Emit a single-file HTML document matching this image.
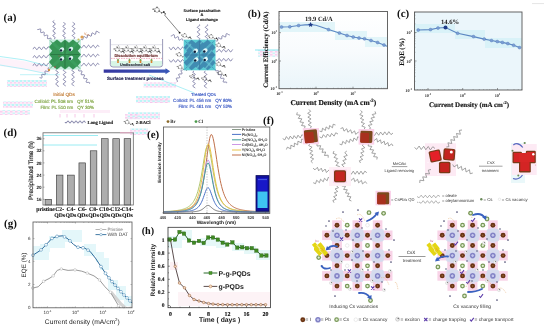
<!DOCTYPE html><html><head><meta charset="utf-8"><style>html,body{margin:0;padding:0;background:#fff;width:550px;height:330px;overflow:hidden}svg{display:block;will-change:transform;filter:blur(0.35px)}text{text-rendering:geometricPrecision}</style></head><body>
<svg width="550" height="330" viewBox="0 0 550 330">
<rect width="550" height="330" fill="#fff"/>
<defs><pattern id="nz" width="4" height="4" patternUnits="userSpaceOnUse"><rect width="4" height="4" fill="#fbe6f6"/><rect width="2" height="2" fill="#a8f0f4"/><rect x="2" y="2" width="2" height="1.5" fill="#f6c6ec"/><rect x="2.5" y="0" width="1.5" height="1.5" fill="#c6f4f8"/></pattern><pattern id="nz2" width="5" height="3" patternUnits="userSpaceOnUse"><rect width="5" height="3" fill="#fde9f7"/><rect width="2.5" height="1.5" fill="#f4c2ea"/><rect x="2.5" y="1.5" width="2.5" height="1.5" fill="#bff2f6"/></pattern></defs>
<rect x="7" y="80" width="40" height="7" fill="url(#nz)" opacity="0.75"/>
<rect x="3" y="101.5" width="30" height="6.5" fill="url(#nz)" opacity="0.75"/>
<rect x="143.6" y="82.3" width="32.4" height="5.4" fill="url(#nz)" opacity="0.75"/>
<rect x="136" y="96" width="34" height="7" fill="url(#nz)" opacity="0.75"/>
<rect x="128" y="112.3" width="32" height="7" fill="url(#nz)" opacity="0.75"/>
<rect x="130" y="128.5" width="18" height="6.5" fill="url(#nz)" opacity="0.75"/>
<rect x="0" y="110" width="30" height="5" fill="url(#nz2)" opacity="0.75"/>
<rect x="125" y="114" width="15" height="5" fill="url(#nz2)" opacity="0.75"/>
<rect x="258" y="50" width="20" height="7" fill="url(#nz2)" opacity="0.75"/>
<rect x="150" y="99" width="20" height="4" fill="url(#nz2)" opacity="0.75"/>
<path d="M0,58 Q24,60 50,67 L50,74 Q24,69 0,66Z" fill="#fbe3f3" opacity="0.45"/>
<path d="M0,56.5 Q24,58.5 48,66" fill="none" stroke="#8eeaf2" stroke-width="0.9" opacity="0.8"/>
<path d="M0,65 Q24,68.5 48,74" fill="none" stroke="#8eeaf2" stroke-width="0.9" opacity="0.7"/>
<path d="M20,74.7 L60,74.7" fill="none" stroke="#8eeaf2" stroke-width="0.8" opacity="0.7"/>
<path d="M149,75 L194.5,93" fill="none" stroke="#8eeaf2" stroke-width="0.9" opacity="0.8"/>
<path d="M255,50 L280,50" fill="none" stroke="#7ee6f0" stroke-width="1" opacity="0.9"/>
<line x1="43" y1="135.5" x2="98" y2="135.5" stroke="#8eeaf2" stroke-width="0.9"/>
<line x1="43" y1="145" x2="97" y2="145" stroke="#8eeaf2" stroke-width="0.9"/>
<line x1="60" y1="114" x2="60" y2="117.5" stroke="#f4b0dc" stroke-width="0.9" opacity="0.8"/>
<line x1="67" y1="114" x2="67" y2="117.5" stroke="#f4b0dc" stroke-width="0.9" opacity="0.8"/>
<line x1="75" y1="114" x2="75" y2="117.5" stroke="#f4b0dc" stroke-width="0.9" opacity="0.8"/>
<line x1="84" y1="114" x2="84" y2="117.5" stroke="#f4b0dc" stroke-width="0.9" opacity="0.8"/>
<line x1="94" y1="114" x2="94" y2="117.5" stroke="#f4b0dc" stroke-width="0.9" opacity="0.8"/>
<rect x="60" y="110" width="50" height="3" fill="#fdeef8"/>
<defs><linearGradient id="bg_b" x1="0" y1="0" x2="0" y2="1"><stop offset="0" stop-color="#ffffff"/><stop offset="0.5" stop-color="#f8fbfd"/><stop offset="1" stop-color="#eaf5fa"/></linearGradient></defs>
<rect x="279" y="11.5" width="108.5" height="77.2" fill="url(#bg_b)"/>
<rect x="279" y="22" width="56" height="10" fill="#e2f5f9"/>
<rect x="335" y="31" width="32" height="9" fill="#e2f5f9"/>
<rect x="365" y="37" width="22" height="10" fill="#e2f5f9"/>
<polyline points="281.5,27 289.8,26.8 298.6,25.5 305,24.9 310.6,24.6 316,25.3 322,27.2 328.5,29.6 339.4,33 347,35.5 353.2,37 359,38 364.5,38.8 371,40.5 377.6,42.5 384,45 387,46.2" fill="none" stroke="#5b86c2" stroke-width="1.1"/>
<circle cx="281.5" cy="27" r="1.5" fill="#7b9fd4" stroke="#5478b8" stroke-width="0.4"/>
<circle cx="289.8" cy="26.8" r="1.5" fill="#7b9fd4" stroke="#5478b8" stroke-width="0.4"/>
<circle cx="298.6" cy="25.5" r="1.5" fill="#7b9fd4" stroke="#5478b8" stroke-width="0.4"/>
<path d="M310.6,22.0 L311.40000000000003,23.8 L313.20000000000005,24.0 L311.8,25.3 L312.20000000000005,27.1 L310.6,26.1 L309.0,27.1 L309.40000000000003,25.3 L308.0,24.0 L309.8,23.8Z" fill="#1f3c88"/>
<circle cx="328.5" cy="29.6" r="1.5" fill="#7b9fd4" stroke="#5478b8" stroke-width="0.4"/>
<circle cx="339.4" cy="33" r="1.5" fill="#7b9fd4" stroke="#5478b8" stroke-width="0.4"/>
<circle cx="347" cy="35.5" r="1.5" fill="#7b9fd4" stroke="#5478b8" stroke-width="0.4"/>
<circle cx="353.2" cy="37" r="1.5" fill="#7b9fd4" stroke="#5478b8" stroke-width="0.4"/>
<circle cx="359" cy="38" r="1.5" fill="#7b9fd4" stroke="#5478b8" stroke-width="0.4"/>
<circle cx="364.5" cy="38.8" r="1.5" fill="#7b9fd4" stroke="#5478b8" stroke-width="0.4"/>
<circle cx="371" cy="40.5" r="1.5" fill="#7b9fd4" stroke="#5478b8" stroke-width="0.4"/>
<circle cx="377.6" cy="42.5" r="1.5" fill="#7b9fd4" stroke="#5478b8" stroke-width="0.4"/>
<circle cx="384" cy="45" r="1.5" fill="#7b9fd4" stroke="#5478b8" stroke-width="0.4"/>
<rect x="279" y="11.5" width="108.5" height="77.2" fill="none" stroke="#555" stroke-width="0.9"/>
<line x1="279" y1="32.7" x2="281" y2="32.7" stroke="#555" stroke-width="0.6"/>
<line x1="279" y1="61" x2="281" y2="61" stroke="#555" stroke-width="0.6"/>
<line x1="316" y1="88.7" x2="316" y2="86.7" stroke="#555" stroke-width="0.6"/>
<line x1="353" y1="88.7" x2="353" y2="86.7" stroke="#555" stroke-width="0.6"/>
<line x1="290.5" y1="88.7" x2="290.5" y2="87.7" stroke="#666" stroke-width="0.4"/>
<line x1="297.0" y1="88.7" x2="297.0" y2="87.7" stroke="#666" stroke-width="0.4"/>
<line x1="301.5" y1="88.7" x2="301.5" y2="87.7" stroke="#666" stroke-width="0.4"/>
<line x1="305.1" y1="88.7" x2="305.1" y2="87.7" stroke="#666" stroke-width="0.4"/>
<line x1="308.0" y1="88.7" x2="308.0" y2="87.7" stroke="#666" stroke-width="0.4"/>
<line x1="310.4" y1="88.7" x2="310.4" y2="87.7" stroke="#666" stroke-width="0.4"/>
<line x1="312.6" y1="88.7" x2="312.6" y2="87.7" stroke="#666" stroke-width="0.4"/>
<line x1="314.4" y1="88.7" x2="314.4" y2="87.7" stroke="#666" stroke-width="0.4"/>
<line x1="327.0" y1="88.7" x2="327.0" y2="87.7" stroke="#666" stroke-width="0.4"/>
<line x1="333.5" y1="88.7" x2="333.5" y2="87.7" stroke="#666" stroke-width="0.4"/>
<line x1="338.0" y1="88.7" x2="338.0" y2="87.7" stroke="#666" stroke-width="0.4"/>
<line x1="341.6" y1="88.7" x2="341.6" y2="87.7" stroke="#666" stroke-width="0.4"/>
<line x1="344.5" y1="88.7" x2="344.5" y2="87.7" stroke="#666" stroke-width="0.4"/>
<line x1="346.9" y1="88.7" x2="346.9" y2="87.7" stroke="#666" stroke-width="0.4"/>
<line x1="349.1" y1="88.7" x2="349.1" y2="87.7" stroke="#666" stroke-width="0.4"/>
<line x1="350.9" y1="88.7" x2="350.9" y2="87.7" stroke="#666" stroke-width="0.4"/>
<line x1="364.0" y1="88.7" x2="364.0" y2="87.7" stroke="#666" stroke-width="0.4"/>
<line x1="370.5" y1="88.7" x2="370.5" y2="87.7" stroke="#666" stroke-width="0.4"/>
<line x1="375.0" y1="88.7" x2="375.0" y2="87.7" stroke="#666" stroke-width="0.4"/>
<line x1="378.6" y1="88.7" x2="378.6" y2="87.7" stroke="#666" stroke-width="0.4"/>
<line x1="381.5" y1="88.7" x2="381.5" y2="87.7" stroke="#666" stroke-width="0.4"/>
<line x1="383.9" y1="88.7" x2="383.9" y2="87.7" stroke="#666" stroke-width="0.4"/>
<line x1="386.1" y1="88.7" x2="386.1" y2="87.7" stroke="#666" stroke-width="0.4"/>
<line x1="279" y1="80.3" x2="280" y2="80.3" stroke="#666" stroke-width="0.4"/>
<line x1="279" y1="75.3" x2="280" y2="75.3" stroke="#666" stroke-width="0.4"/>
<line x1="279" y1="71.8" x2="280" y2="71.8" stroke="#666" stroke-width="0.4"/>
<line x1="279" y1="69.1" x2="280" y2="69.1" stroke="#666" stroke-width="0.4"/>
<line x1="279" y1="66.9" x2="280" y2="66.9" stroke="#666" stroke-width="0.4"/>
<line x1="279" y1="65.0" x2="280" y2="65.0" stroke="#666" stroke-width="0.4"/>
<line x1="279" y1="63.4" x2="280" y2="63.4" stroke="#666" stroke-width="0.4"/>
<line x1="279" y1="62.0" x2="280" y2="62.0" stroke="#666" stroke-width="0.4"/>
<line x1="279" y1="52.6" x2="280" y2="52.6" stroke="#666" stroke-width="0.4"/>
<line x1="279" y1="47.6" x2="280" y2="47.6" stroke="#666" stroke-width="0.4"/>
<line x1="279" y1="44.1" x2="280" y2="44.1" stroke="#666" stroke-width="0.4"/>
<line x1="279" y1="41.4" x2="280" y2="41.4" stroke="#666" stroke-width="0.4"/>
<line x1="279" y1="39.2" x2="280" y2="39.2" stroke="#666" stroke-width="0.4"/>
<line x1="279" y1="37.3" x2="280" y2="37.3" stroke="#666" stroke-width="0.4"/>
<line x1="279" y1="35.7" x2="280" y2="35.7" stroke="#666" stroke-width="0.4"/>
<line x1="279" y1="34.3" x2="280" y2="34.3" stroke="#666" stroke-width="0.4"/>
<line x1="279" y1="24.3" x2="280" y2="24.3" stroke="#666" stroke-width="0.4"/>
<line x1="279" y1="19.3" x2="280" y2="19.3" stroke="#666" stroke-width="0.4"/>
<line x1="279" y1="15.8" x2="280" y2="15.8" stroke="#666" stroke-width="0.4"/>
<line x1="279" y1="13.1" x2="280" y2="13.1" stroke="#666" stroke-width="0.4"/>
<text x="277" y="34" font-size="4.2" font-family="Liberation Serif" font-weight="bold" fill="#333" text-anchor="end" >10<tspan font-size="3" dy="-2">1</tspan></text>
<text x="277" y="62.5" font-size="4.2" font-family="Liberation Serif" font-weight="bold" fill="#333" text-anchor="end" >10<tspan font-size="3" dy="-2">0</tspan></text>
<text x="277" y="90" font-size="4.2" font-family="Liberation Serif" font-weight="bold" fill="#333" text-anchor="end" >10<tspan font-size="3" dy="-2">-1</tspan></text>
<text x="279.5" y="95" font-size="4.2" font-family="Liberation Serif" font-weight="bold" fill="#333" text-anchor="middle" >10<tspan font-size="3" dy="-2">-1</tspan></text>
<text x="316" y="95" font-size="4.2" font-family="Liberation Serif" font-weight="bold" fill="#333" text-anchor="middle" >10<tspan font-size="3" dy="-2">0</tspan></text>
<text x="353" y="95" font-size="4.2" font-family="Liberation Serif" font-weight="bold" fill="#333" text-anchor="middle" >10<tspan font-size="3" dy="-2">1</tspan></text>
<text x="333.3" y="105" font-size="7.5" font-family="Liberation Serif" font-weight="bold" fill="#111" text-anchor="middle" stroke="#111" stroke-width="0.15">Current Density (mA cm<tspan font-size="4.8" dy="-2.8">-2</tspan><tspan dy="2.8">)</tspan></text>
<text x="0" y="0" font-size="6.8" font-family="Liberation Serif" font-weight="bold" fill="#111" text-anchor="middle" transform="translate(267.5,49.6) rotate(-90)" stroke="#111" stroke-width="0.12">Current Efficiency (Cd/A)</text>
<text x="318.8" y="21" font-size="6.5" font-family="Liberation Serif" font-weight="bold" fill="#222" text-anchor="middle" >19.9 Cd/A</text>
<text x="247.8" y="16.5" font-size="10.5" font-family="Liberation Serif" font-weight="bold" fill="#111" text-anchor="start" >(b)</text>
<rect x="414.5" y="12" width="107.5" height="78" fill="#ebf6fb"/>
<rect x="415" y="24" width="40" height="9" fill="#d9f2f8"/>
<rect x="455" y="30" width="30" height="9" fill="#d9f2f8"/>
<rect x="485" y="38" width="37" height="10" fill="#d9f2f8"/>
<polyline points="418.2,30 430.5,29.6 438,28 445.5,27.5 457.6,33.2 473.5,36.6 484.2,39.1 491.5,40.5 497.3,41.6 502.4,42.4 507.8,43.6 513.6,45.2 519.5,47.6" fill="none" stroke="#5b86c2" stroke-width="1.1"/>
<circle cx="418.2" cy="30" r="1.5" fill="#7b9fd4" stroke="#5478b8" stroke-width="0.4"/>
<circle cx="430.5" cy="29.6" r="1.5" fill="#7b9fd4" stroke="#5478b8" stroke-width="0.4"/>
<circle cx="438" cy="28" r="1.5" fill="#7b9fd4" stroke="#5478b8" stroke-width="0.4"/>
<circle cx="445.5" cy="27.5" r="2" fill="#1f3c88"/>
<circle cx="457.6" cy="33.2" r="1.5" fill="#7b9fd4" stroke="#5478b8" stroke-width="0.4"/>
<circle cx="473.5" cy="36.6" r="1.5" fill="#7b9fd4" stroke="#5478b8" stroke-width="0.4"/>
<circle cx="484.2" cy="39.1" r="1.5" fill="#7b9fd4" stroke="#5478b8" stroke-width="0.4"/>
<circle cx="491.5" cy="40.5" r="1.5" fill="#7b9fd4" stroke="#5478b8" stroke-width="0.4"/>
<circle cx="497.3" cy="41.6" r="1.5" fill="#7b9fd4" stroke="#5478b8" stroke-width="0.4"/>
<circle cx="502.4" cy="42.4" r="1.5" fill="#7b9fd4" stroke="#5478b8" stroke-width="0.4"/>
<circle cx="507.8" cy="43.6" r="1.5" fill="#7b9fd4" stroke="#5478b8" stroke-width="0.4"/>
<circle cx="513.6" cy="45.2" r="1.5" fill="#7b9fd4" stroke="#5478b8" stroke-width="0.4"/>
<circle cx="519.5" cy="47.6" r="1.5" fill="#7b9fd4" stroke="#5478b8" stroke-width="0.4"/>
<rect x="414.5" y="12" width="107.5" height="78" fill="none" stroke="#555" stroke-width="0.9"/>
<line x1="414.5" y1="32.5" x2="416.5" y2="32.5" stroke="#555" stroke-width="0.6"/>
<line x1="414.5" y1="61" x2="416.5" y2="61" stroke="#555" stroke-width="0.6"/>
<line x1="428" y1="90" x2="428" y2="88" stroke="#555" stroke-width="0.6"/>
<line x1="462.7" y1="90" x2="462.7" y2="88" stroke="#555" stroke-width="0.6"/>
<line x1="497.5" y1="90" x2="497.5" y2="88" stroke="#555" stroke-width="0.6"/>
<line x1="417.6" y1="90" x2="417.6" y2="89" stroke="#666" stroke-width="0.4"/>
<line x1="420.3" y1="90" x2="420.3" y2="89" stroke="#666" stroke-width="0.4"/>
<line x1="422.6" y1="90" x2="422.6" y2="89" stroke="#666" stroke-width="0.4"/>
<line x1="424.6" y1="90" x2="424.6" y2="89" stroke="#666" stroke-width="0.4"/>
<line x1="426.4" y1="90" x2="426.4" y2="89" stroke="#666" stroke-width="0.4"/>
<line x1="438.4" y1="90" x2="438.4" y2="89" stroke="#666" stroke-width="0.4"/>
<line x1="444.6" y1="90" x2="444.6" y2="89" stroke="#666" stroke-width="0.4"/>
<line x1="448.9" y1="90" x2="448.9" y2="89" stroke="#666" stroke-width="0.4"/>
<line x1="452.3" y1="90" x2="452.3" y2="89" stroke="#666" stroke-width="0.4"/>
<line x1="455.0" y1="90" x2="455.0" y2="89" stroke="#666" stroke-width="0.4"/>
<line x1="457.3" y1="90" x2="457.3" y2="89" stroke="#666" stroke-width="0.4"/>
<line x1="459.3" y1="90" x2="459.3" y2="89" stroke="#666" stroke-width="0.4"/>
<line x1="461.1" y1="90" x2="461.1" y2="89" stroke="#666" stroke-width="0.4"/>
<line x1="473.1" y1="90" x2="473.1" y2="89" stroke="#666" stroke-width="0.4"/>
<line x1="479.3" y1="90" x2="479.3" y2="89" stroke="#666" stroke-width="0.4"/>
<line x1="483.6" y1="90" x2="483.6" y2="89" stroke="#666" stroke-width="0.4"/>
<line x1="487.0" y1="90" x2="487.0" y2="89" stroke="#666" stroke-width="0.4"/>
<line x1="489.7" y1="90" x2="489.7" y2="89" stroke="#666" stroke-width="0.4"/>
<line x1="492.0" y1="90" x2="492.0" y2="89" stroke="#666" stroke-width="0.4"/>
<line x1="494.0" y1="90" x2="494.0" y2="89" stroke="#666" stroke-width="0.4"/>
<line x1="495.8" y1="90" x2="495.8" y2="89" stroke="#666" stroke-width="0.4"/>
<line x1="507.8" y1="90" x2="507.8" y2="89" stroke="#666" stroke-width="0.4"/>
<line x1="514.0" y1="90" x2="514.0" y2="89" stroke="#666" stroke-width="0.4"/>
<line x1="518.3" y1="90" x2="518.3" y2="89" stroke="#666" stroke-width="0.4"/>
<line x1="521.7" y1="90" x2="521.7" y2="89" stroke="#666" stroke-width="0.4"/>
<line x1="414.5" y1="81.3" x2="415.5" y2="81.3" stroke="#666" stroke-width="0.4"/>
<line x1="414.5" y1="76.3" x2="415.5" y2="76.3" stroke="#666" stroke-width="0.4"/>
<line x1="414.5" y1="72.7" x2="415.5" y2="72.7" stroke="#666" stroke-width="0.4"/>
<line x1="414.5" y1="69.9" x2="415.5" y2="69.9" stroke="#666" stroke-width="0.4"/>
<line x1="414.5" y1="67.6" x2="415.5" y2="67.6" stroke="#666" stroke-width="0.4"/>
<line x1="414.5" y1="65.7" x2="415.5" y2="65.7" stroke="#666" stroke-width="0.4"/>
<line x1="414.5" y1="64.0" x2="415.5" y2="64.0" stroke="#666" stroke-width="0.4"/>
<line x1="414.5" y1="62.5" x2="415.5" y2="62.5" stroke="#666" stroke-width="0.4"/>
<line x1="414.5" y1="52.3" x2="415.5" y2="52.3" stroke="#666" stroke-width="0.4"/>
<line x1="414.5" y1="47.3" x2="415.5" y2="47.3" stroke="#666" stroke-width="0.4"/>
<line x1="414.5" y1="43.7" x2="415.5" y2="43.7" stroke="#666" stroke-width="0.4"/>
<line x1="414.5" y1="40.9" x2="415.5" y2="40.9" stroke="#666" stroke-width="0.4"/>
<line x1="414.5" y1="38.6" x2="415.5" y2="38.6" stroke="#666" stroke-width="0.4"/>
<line x1="414.5" y1="36.7" x2="415.5" y2="36.7" stroke="#666" stroke-width="0.4"/>
<line x1="414.5" y1="35.0" x2="415.5" y2="35.0" stroke="#666" stroke-width="0.4"/>
<line x1="414.5" y1="33.5" x2="415.5" y2="33.5" stroke="#666" stroke-width="0.4"/>
<line x1="414.5" y1="23.8" x2="415.5" y2="23.8" stroke="#666" stroke-width="0.4"/>
<line x1="414.5" y1="18.8" x2="415.5" y2="18.8" stroke="#666" stroke-width="0.4"/>
<line x1="414.5" y1="15.2" x2="415.5" y2="15.2" stroke="#666" stroke-width="0.4"/>
<line x1="414.5" y1="12.4" x2="415.5" y2="12.4" stroke="#666" stroke-width="0.4"/>
<text x="412" y="34" font-size="4.2" font-family="Liberation Serif" font-weight="bold" fill="#333" text-anchor="end" >10<tspan font-size="3" dy="-2">1</tspan></text>
<text x="412" y="62.5" font-size="4.2" font-family="Liberation Serif" font-weight="bold" fill="#333" text-anchor="end" >10<tspan font-size="3" dy="-2">0</tspan></text>
<text x="412" y="91.5" font-size="4.2" font-family="Liberation Serif" font-weight="bold" fill="#333" text-anchor="end" >10<tspan font-size="3" dy="-2">-1</tspan></text>
<text x="428" y="96.5" font-size="4.2" font-family="Liberation Serif" font-weight="bold" fill="#333" text-anchor="middle" >10<tspan font-size="3" dy="-2">-1</tspan></text>
<text x="462.7" y="96.5" font-size="4.2" font-family="Liberation Serif" font-weight="bold" fill="#333" text-anchor="middle" >10<tspan font-size="3" dy="-2">0</tspan></text>
<text x="497.5" y="96.5" font-size="4.2" font-family="Liberation Serif" font-weight="bold" fill="#333" text-anchor="middle" >10<tspan font-size="3" dy="-2">1</tspan></text>
<text x="469" y="106.7" font-size="7.0" font-family="Liberation Serif" font-weight="bold" fill="#111" text-anchor="middle" stroke="#111" stroke-width="0.15">Current Density (mA cm<tspan font-size="4.5" dy="-2.6">-2</tspan><tspan dy="2.6">)</tspan></text>
<text x="0" y="0" font-size="6.8" font-family="Liberation Serif" font-weight="bold" fill="#111" text-anchor="middle" transform="translate(403.5,52) rotate(-90)" stroke="#111" stroke-width="0.12">EQE (%)</text>
<text x="450" y="23.5" font-size="6.6" font-family="Liberation Serif" font-weight="bold" fill="#222" text-anchor="middle" >14.6%</text>
<text x="397" y="16.5" font-size="11" font-family="Liberation Serif" font-weight="bold" fill="#111" text-anchor="start" >(c)</text>
<line x1="532" y1="3.6" x2="544" y2="3.6" stroke="#ddd" stroke-width="0.8"/>
<rect x="45.05" y="199.3" width="6.6" height="5.7" fill="#adadad" stroke="#333" stroke-width="0.6"/>
<rect x="56.35" y="175.1" width="6.6" height="29.9" fill="#adadad" stroke="#333" stroke-width="0.6"/>
<rect x="67.65" y="175.1" width="6.6" height="29.9" fill="#adadad" stroke="#333" stroke-width="0.6"/>
<rect x="78.95" y="162.9" width="6.6" height="42.1" fill="#adadad" stroke="#333" stroke-width="0.6"/>
<rect x="90.25" y="150.8" width="6.6" height="54.2" fill="#adadad" stroke="#333" stroke-width="0.6"/>
<rect x="101.55" y="138.7" width="6.6" height="66.3" fill="#adadad" stroke="#333" stroke-width="0.6"/>
<rect x="112.85" y="138.7" width="6.6" height="66.3" fill="#adadad" stroke="#333" stroke-width="0.6"/>
<rect x="124.15" y="138.7" width="6.6" height="66.3" fill="#adadad" stroke="#333" stroke-width="0.6"/>
<rect x="43" y="132.8" width="90.30000000000001" height="72.19999999999999" fill="none" stroke="#666" stroke-width="0.8"/>
<line x1="43" y1="199.3" x2="44.5" y2="199.3" stroke="#666" stroke-width="0.5"/>
<text x="41.5" y="200.9" font-size="4.6" font-family="Liberation Sans" font-weight="bold" fill="#222" text-anchor="end" >16</text>
<line x1="43" y1="187.2" x2="44.5" y2="187.2" stroke="#666" stroke-width="0.5"/>
<text x="41.5" y="188.78" font-size="4.6" font-family="Liberation Sans" font-weight="bold" fill="#222" text-anchor="end" >20</text>
<line x1="43" y1="175.1" x2="44.5" y2="175.1" stroke="#666" stroke-width="0.5"/>
<text x="41.5" y="176.66" font-size="4.6" font-family="Liberation Sans" font-weight="bold" fill="#222" text-anchor="end" >24</text>
<line x1="43" y1="162.9" x2="44.5" y2="162.9" stroke="#666" stroke-width="0.5"/>
<text x="41.5" y="164.54" font-size="4.6" font-family="Liberation Sans" font-weight="bold" fill="#222" text-anchor="end" >28</text>
<line x1="43" y1="150.8" x2="44.5" y2="150.8" stroke="#666" stroke-width="0.5"/>
<text x="41.5" y="152.42000000000002" font-size="4.6" font-family="Liberation Sans" font-weight="bold" fill="#222" text-anchor="end" >32</text>
<line x1="43" y1="138.7" x2="44.5" y2="138.7" stroke="#666" stroke-width="0.5"/>
<text x="41.5" y="140.3" font-size="4.6" font-family="Liberation Sans" font-weight="bold" fill="#222" text-anchor="end" >36</text>
<text x="0" y="0" font-size="6.4" font-family="Liberation Sans" fill="#111" text-anchor="middle" transform="translate(33.2,170.5) rotate(-90)" stroke="#111" stroke-width="0.15">Precipitated Time (h)</text>
<text x="45.550000000000004" y="211.3" font-size="5.7" font-family="Liberation Serif" font-weight="bold" fill="#111" text-anchor="middle" stroke="#111" stroke-width="0.12">pristine</text>
<text x="59.650000000000006" y="211.3" font-size="5.7" font-family="Liberation Serif" font-weight="bold" fill="#111" text-anchor="middle" stroke="#111" stroke-width="0.12">C2-</text>
<text x="59.650000000000006" y="216.5" font-size="5.7" font-family="Liberation Serif" font-weight="bold" fill="#111" text-anchor="middle" stroke="#111" stroke-width="0.12">QDs</text>
<text x="70.95" y="211.3" font-size="5.7" font-family="Liberation Serif" font-weight="bold" fill="#111" text-anchor="middle" stroke="#111" stroke-width="0.12">C4-</text>
<text x="70.95" y="216.5" font-size="5.7" font-family="Liberation Serif" font-weight="bold" fill="#111" text-anchor="middle" stroke="#111" stroke-width="0.12">QDs</text>
<text x="82.25" y="211.3" font-size="5.7" font-family="Liberation Serif" font-weight="bold" fill="#111" text-anchor="middle" stroke="#111" stroke-width="0.12">C6-</text>
<text x="82.25" y="216.5" font-size="5.7" font-family="Liberation Serif" font-weight="bold" fill="#111" text-anchor="middle" stroke="#111" stroke-width="0.12">QDs</text>
<text x="93.55000000000001" y="211.3" font-size="5.7" font-family="Liberation Serif" font-weight="bold" fill="#111" text-anchor="middle" stroke="#111" stroke-width="0.12">C8-</text>
<text x="93.55000000000001" y="216.5" font-size="5.7" font-family="Liberation Serif" font-weight="bold" fill="#111" text-anchor="middle" stroke="#111" stroke-width="0.12">QDs</text>
<text x="104.85" y="211.3" font-size="5.7" font-family="Liberation Serif" font-weight="bold" fill="#111" text-anchor="middle" stroke="#111" stroke-width="0.12">C10-</text>
<text x="104.85" y="216.5" font-size="5.7" font-family="Liberation Serif" font-weight="bold" fill="#111" text-anchor="middle" stroke="#111" stroke-width="0.12">QDs</text>
<text x="116.15" y="211.3" font-size="5.7" font-family="Liberation Serif" font-weight="bold" fill="#111" text-anchor="middle" stroke="#111" stroke-width="0.12">C12-</text>
<text x="116.15" y="216.5" font-size="5.7" font-family="Liberation Serif" font-weight="bold" fill="#111" text-anchor="middle" stroke="#111" stroke-width="0.12">QDs</text>
<text x="127.45000000000002" y="211.3" font-size="5.7" font-family="Liberation Serif" font-weight="bold" fill="#111" text-anchor="middle" stroke="#111" stroke-width="0.12">C14-</text>
<text x="127.45000000000002" y="216.5" font-size="5.7" font-family="Liberation Serif" font-weight="bold" fill="#111" text-anchor="middle" stroke="#111" stroke-width="0.12">QDs</text>
<text x="3.5" y="136.3" font-size="11" font-family="Liberation Serif" font-weight="bold" fill="#111" text-anchor="start" >(d)</text>
<line x1="120" y1="132.8" x2="133.3" y2="132.8" stroke="#f0a8c8" stroke-width="0.9"/>
<polyline points="163.5,211.55 164.2,211.53 164.9,211.50 165.6,211.46 166.3,211.43 167.0,211.39 167.7,211.35 168.4,211.31 169.1,211.27 169.8,211.22 170.5,211.17 171.2,211.12 171.9,211.06 172.6,211.00 173.3,210.94 174.0,210.87 174.7,210.79 175.4,210.71 176.1,210.62 176.8,210.53 177.5,210.42 178.2,210.31 178.9,210.19 179.6,210.06 180.3,209.92 181.0,209.76 181.7,209.59 182.4,209.40 183.1,209.20 183.8,208.98 184.5,208.73 185.2,208.46 185.9,208.16 186.6,207.83 187.3,207.46 188.0,207.05 188.7,206.59 189.4,206.08 190.1,205.51 190.8,204.87 191.5,204.15 192.2,203.34 192.9,202.43 193.6,201.39 194.3,200.23 195.0,198.90 195.7,197.39 196.4,195.69 197.1,193.75 197.8,191.55 198.5,189.07 199.2,186.28 199.9,183.17 200.6,179.71 201.3,175.92 202.0,171.84 202.7,167.54 203.4,163.13 204.1,158.78 204.8,154.71 205.5,151.16 206.2,148.38 206.9,146.61 207.6,146.00 208.3,146.61 209.0,148.38 209.7,151.16 210.4,154.71 211.1,158.78 211.8,163.13 212.5,167.54 213.2,171.84 213.9,175.92 214.6,179.71 215.3,183.17 216.0,186.28 216.7,189.07 217.4,191.55 218.1,193.75 218.8,195.69 219.5,197.39 220.2,198.90 220.9,200.23 221.6,201.39 222.3,202.43 223.0,203.34 223.7,204.15 224.4,204.87 225.1,205.51 225.8,206.08 226.5,206.59 227.2,207.05 227.9,207.46 228.6,207.83 229.3,208.16 230.0,208.46 230.7,208.73 231.4,208.98 232.1,209.20 232.8,209.40 233.5,209.59 234.2,209.76 234.9,209.92 235.6,210.06 236.3,210.19 237.0,210.31 237.7,210.42 238.4,210.53 239.1,210.62 239.8,210.71 240.5,210.79 241.2,210.87 241.9,210.94 242.6,211.00 243.3,211.06 244.0,211.12 244.7,211.17 245.4,211.22 246.1,211.27 246.8,211.31 247.5,211.35 248.2,211.39 248.9,211.43 249.6,211.46 250.3,211.50 251.0,211.53 251.7,211.55 252.4,211.58 253.1,211.61 253.8,211.63 254.5,211.65 255.2,211.67 255.9,211.69 256.6,211.71 257.3,211.73 258.0,211.75 258.7,211.77 259.4,211.78 260.1,211.80 260.8,211.81 261.5,211.83 262.2,211.84 262.9,211.85 263.6,211.86 264.3,211.87 265.0,211.88 265.7,211.89 266.4,211.90 267.1,211.91 267.8,211.92 268.5,211.93 269.2,211.94" fill="none" stroke="#a8c060" stroke-width="0.9"/>
<polyline points="163.5,211.77 164.2,211.75 164.9,211.73 165.6,211.71 166.3,211.69 167.0,211.66 167.7,211.64 168.4,211.61 169.1,211.58 169.8,211.55 170.5,211.52 171.2,211.48 171.9,211.45 172.6,211.41 173.3,211.36 174.0,211.32 174.7,211.27 175.4,211.22 176.1,211.16 176.8,211.10 177.5,211.04 178.2,210.96 178.9,210.89 179.6,210.81 180.3,210.72 181.0,210.62 181.7,210.51 182.4,210.40 183.1,210.27 183.8,210.13 184.5,209.98 185.2,209.82 185.9,209.64 186.6,209.44 187.3,209.22 188.0,208.97 188.7,208.70 189.4,208.41 190.1,208.07 190.8,207.70 191.5,207.29 192.2,206.82 192.9,206.30 193.6,205.71 194.3,205.05 195.0,204.30 195.7,203.46 196.4,202.49 197.1,201.40 197.8,200.15 198.5,198.72 199.2,197.09 199.9,195.23 200.6,193.10 201.3,190.66 202.0,187.88 202.7,184.73 203.4,181.17 204.1,177.17 204.8,172.75 205.5,167.92 206.2,162.76 206.9,157.38 207.6,151.97 208.3,146.79 209.0,142.15 209.7,138.37 210.4,135.76 211.1,134.56 211.8,134.80 212.5,136.18 213.2,138.61 213.9,141.91 214.6,145.88 215.3,150.29 216.0,154.95 216.7,159.67 217.4,164.29 218.1,168.73 218.8,172.89 219.5,176.75 220.2,180.29 220.9,183.49 221.6,186.38 222.3,188.98 223.0,191.30 223.7,193.36 224.4,195.20 225.1,196.84 225.8,198.30 226.5,199.60 227.2,200.75 227.9,201.78 228.6,202.70 229.3,203.52 230.0,204.26 230.7,204.92 231.4,205.51 232.1,206.05 232.8,206.53 233.5,206.96 234.2,207.36 234.9,207.71 235.6,208.04 236.3,208.33 237.0,208.60 237.7,208.85 238.4,209.07 239.1,209.27 239.8,209.46 240.5,209.63 241.2,209.79 241.9,209.94 242.6,210.07 243.3,210.20 244.0,210.31 244.7,210.42 245.4,210.52 246.1,210.61 246.8,210.70 247.5,210.78 248.2,210.85 248.9,210.92 249.6,210.99 250.3,211.05 251.0,211.10 251.7,211.16 252.4,211.21 253.1,211.25 253.8,211.30 254.5,211.34 255.2,211.38 255.9,211.41 256.6,211.45 257.3,211.48 258.0,211.51 258.7,211.54 259.4,211.57 260.1,211.59 260.8,211.62 261.5,211.64 262.2,211.66 262.9,211.68 263.6,211.70 264.3,211.72 265.0,211.74 265.7,211.76 266.4,211.77 267.1,211.79 267.8,211.80 268.5,211.82 269.2,211.83" fill="none" stroke="#c0704a" stroke-width="1.0"/>
<polyline points="163.5,211.83 164.2,211.81 164.9,211.79 165.6,211.77 166.3,211.75 167.0,211.73 167.7,211.70 168.4,211.68 169.1,211.65 169.8,211.62 170.5,211.59 171.2,211.56 171.9,211.52 172.6,211.48 173.3,211.44 174.0,211.39 174.7,211.35 175.4,211.29 176.1,211.24 176.8,211.17 177.5,211.11 178.2,211.03 178.9,210.95 179.6,210.87 180.3,210.77 181.0,210.67 181.7,210.55 182.4,210.43 183.1,210.29 183.8,210.14 184.5,209.97 185.2,209.78 185.9,209.57 186.6,209.34 187.3,209.08 188.0,208.80 188.7,208.47 189.4,208.11 190.1,207.69 190.8,207.23 191.5,206.70 192.2,206.10 192.9,205.42 193.6,204.63 194.3,203.74 195.0,202.70 195.7,201.52 196.4,200.15 197.1,198.57 197.8,196.74 198.5,194.63 199.2,192.20 199.9,189.41 200.6,186.21 201.3,182.59 202.0,178.52 202.7,174.04 203.4,169.20 204.1,164.13 204.8,159.04 205.5,154.19 206.2,149.93 206.9,146.61 207.6,144.57 208.3,144.01 209.0,144.84 209.7,146.87 210.4,149.93 211.1,153.77 211.8,158.13 212.5,162.73 213.2,167.37 213.9,171.88 214.6,176.13 215.3,180.05 216.0,183.62 216.7,186.82 217.4,189.68 218.1,192.20 218.8,194.43 219.5,196.38 220.2,198.10 220.9,199.60 221.6,200.92 222.3,202.08 223.0,203.10 223.7,203.99 224.4,204.78 225.1,205.48 225.8,206.10 226.5,206.65 227.2,207.14 227.9,207.57 228.6,207.96 229.3,208.31 230.0,208.62 230.7,208.90 231.4,209.16 232.1,209.39 232.8,209.59 233.5,209.78 234.2,209.95 234.9,210.11 235.6,210.25 236.3,210.38 237.0,210.50 237.7,210.61 238.4,210.71 239.1,210.80 239.8,210.88 240.5,210.96 241.2,211.03 241.9,211.10 242.6,211.16 243.3,211.22 244.0,211.27 244.7,211.32 245.4,211.37 246.1,211.41 246.8,211.45 247.5,211.49 248.2,211.52 248.9,211.56 249.6,211.59 250.3,211.62 251.0,211.64 251.7,211.67 252.4,211.69 253.1,211.71 253.8,211.74 254.5,211.76 255.2,211.77 255.9,211.79 256.6,211.81 257.3,211.83 258.0,211.84 258.7,211.85 259.4,211.87 260.1,211.88 260.8,211.89 261.5,211.91 262.2,211.92 262.9,211.93 263.6,211.94 264.3,211.95 265.0,211.96 265.7,211.96 266.4,211.97 267.1,211.98 267.8,211.99 268.5,211.99 269.2,212.00" fill="none" stroke="#e8c34a" stroke-width="1.0"/>
<polyline points="163.5,211.95 164.2,211.94 164.9,211.93 165.6,211.91 166.3,211.90 167.0,211.88 167.7,211.87 168.4,211.85 169.1,211.83 169.8,211.81 170.5,211.79 171.2,211.77 171.9,211.74 172.6,211.72 173.3,211.69 174.0,211.66 174.7,211.62 175.4,211.59 176.1,211.55 176.8,211.51 177.5,211.46 178.2,211.41 178.9,211.36 179.6,211.30 180.3,211.23 181.0,211.16 181.7,211.08 182.4,211.00 183.1,210.90 183.8,210.80 184.5,210.68 185.2,210.55 185.9,210.40 186.6,210.24 187.3,210.06 188.0,209.86 188.7,209.63 189.4,209.38 190.1,209.08 190.8,208.75 191.5,208.38 192.2,207.95 192.9,207.46 193.6,206.89 194.3,206.24 195.0,205.49 195.7,204.62 196.4,203.61 197.1,202.43 197.8,201.07 198.5,199.47 199.2,197.62 199.9,195.48 200.6,193.00 201.3,190.17 202.0,186.96 202.7,183.39 203.4,179.52 204.1,175.44 204.8,171.34 205.5,167.46 206.2,164.10 206.9,161.60 207.6,160.22 208.3,160.12 209.0,161.33 209.7,163.69 210.4,166.94 211.1,170.76 211.8,174.85 212.5,178.94 213.2,182.86 213.9,186.47 214.6,189.73 215.3,192.62 216.0,195.14 216.7,197.34 217.4,199.23 218.1,200.85 218.8,202.25 219.5,203.45 220.2,204.48 220.9,205.37 221.6,206.14 222.3,206.80 223.0,207.38 223.7,207.88 224.4,208.32 225.1,208.70 225.8,209.04 226.5,209.34 227.2,209.60 227.9,209.83 228.6,210.04 229.3,210.22 230.0,210.38 230.7,210.53 231.4,210.66 232.1,210.78 232.8,210.89 233.5,210.98 234.2,211.07 234.9,211.15 235.6,211.22 236.3,211.29 237.0,211.35 237.7,211.40 238.4,211.46 239.1,211.50 239.8,211.54 240.5,211.58 241.2,211.62 241.9,211.65 242.6,211.68 243.3,211.71 244.0,211.74 244.7,211.76 245.4,211.79 246.1,211.81 246.8,211.83 247.5,211.85 248.2,211.87 248.9,211.88 249.6,211.90 250.3,211.91 251.0,211.92 251.7,211.94 252.4,211.95 253.1,211.96 253.8,211.97 254.5,211.98 255.2,211.99 255.9,212.00 256.6,212.01 257.3,212.02 258.0,212.02 258.7,212.03 259.4,212.04 260.1,212.04 260.8,212.05 261.5,212.05 262.2,212.06 262.9,212.07 263.6,212.07 264.3,212.08 265.0,212.08 265.7,212.08 266.4,212.09 267.1,212.09 267.8,212.10 268.5,212.10 269.2,212.10" fill="none" stroke="#cc99e6" stroke-width="1.0"/>
<polyline points="163.5,211.97 164.2,211.95 164.9,211.94 165.6,211.93 166.3,211.92 167.0,211.90 167.7,211.89 168.4,211.87 169.1,211.85 169.8,211.83 170.5,211.81 171.2,211.79 171.9,211.77 172.6,211.74 173.3,211.72 174.0,211.69 174.7,211.66 175.4,211.62 176.1,211.59 176.8,211.55 177.5,211.50 178.2,211.46 178.9,211.41 179.6,211.35 180.3,211.29 181.0,211.22 181.7,211.15 182.4,211.07 183.1,210.98 183.8,210.88 184.5,210.77 185.2,210.64 185.9,210.51 186.6,210.36 187.3,210.19 188.0,209.99 188.7,209.78 189.4,209.54 190.1,209.26 190.8,208.95 191.5,208.60 192.2,208.19 192.9,207.73 193.6,207.20 194.3,206.58 195.0,205.88 195.7,205.05 196.4,204.10 197.1,202.99 197.8,201.71 198.5,200.21 199.2,198.46 199.9,196.44 200.6,194.10 201.3,191.43 202.0,188.41 202.7,185.05 203.4,181.39 204.1,177.55 204.8,173.68 205.5,170.03 206.2,166.87 206.9,164.51 207.6,163.20 208.3,163.11 209.0,164.25 209.7,166.47 210.4,169.54 211.1,173.14 211.8,177.00 212.5,180.85 213.2,184.54 213.9,187.95 214.6,191.02 215.3,193.74 216.0,196.13 216.7,198.19 217.4,199.97 218.1,201.51 218.8,202.82 219.5,203.95 220.2,204.93 220.9,205.77 221.6,206.49 222.3,207.11 223.0,207.66 223.7,208.13 224.4,208.54 225.1,208.90 225.8,209.22 226.5,209.50 227.2,209.75 227.9,209.97 228.6,210.16 229.3,210.33 230.0,210.49 230.7,210.63 231.4,210.75 232.1,210.86 232.8,210.96 233.5,211.05 234.2,211.14 234.9,211.21 235.6,211.28 236.3,211.34 237.0,211.40 237.7,211.45 238.4,211.50 239.1,211.54 239.8,211.58 240.5,211.62 241.2,211.65 241.9,211.68 242.6,211.71 243.3,211.74 244.0,211.77 244.7,211.79 245.4,211.81 246.1,211.83 246.8,211.85 247.5,211.87 248.2,211.88 248.9,211.90 249.6,211.91 250.3,211.93 251.0,211.94 251.7,211.95 252.4,211.96 253.1,211.97 253.8,211.98 254.5,211.99 255.2,212.00 255.9,212.01 256.6,212.02 257.3,212.03 258.0,212.03 258.7,212.04 259.4,212.05 260.1,212.05 260.8,212.06 261.5,212.06 262.2,212.07 262.9,212.07 263.6,212.08 264.3,212.08 265.0,212.09 265.7,212.09 266.4,212.09 267.1,212.10 267.8,212.10 268.5,212.10 269.2,212.11" fill="none" stroke="#3f9f9a" stroke-width="1.0"/>
<polyline points="163.5,212.10 164.2,212.10 164.9,212.09 165.6,212.09 166.3,212.08 167.0,212.07 167.7,212.07 168.4,212.06 169.1,212.05 169.8,212.04 170.5,212.04 171.2,212.03 171.9,212.02 172.6,212.01 173.3,211.99 174.0,211.98 174.7,211.97 175.4,211.95 176.1,211.94 176.8,211.92 177.5,211.90 178.2,211.88 178.9,211.86 179.6,211.84 180.3,211.81 181.0,211.78 181.7,211.75 182.4,211.71 183.1,211.67 183.8,211.63 184.5,211.58 185.2,211.53 185.9,211.47 186.6,211.41 187.3,211.33 188.0,211.25 188.7,211.15 189.4,211.05 190.1,210.93 190.8,210.79 191.5,210.63 192.2,210.45 192.9,210.25 193.6,210.01 194.3,209.73 195.0,209.41 195.7,209.04 196.4,208.61 197.1,208.10 197.8,207.50 198.5,206.80 199.2,205.98 199.9,205.02 200.6,203.89 201.3,202.59 202.0,201.09 202.7,199.40 203.4,197.54 204.1,195.54 204.8,193.50 205.5,191.55 206.2,189.83 206.9,188.53 207.6,187.81 208.3,187.76 209.0,188.39 209.7,189.61 210.4,191.28 211.1,193.22 211.8,195.25 212.5,197.26 213.2,199.15 213.9,200.86 214.6,202.39 215.3,203.72 216.0,204.87 216.7,205.85 217.4,206.69 218.1,207.41 218.8,208.02 219.5,208.54 220.2,208.98 220.9,209.36 221.6,209.69 222.3,209.97 223.0,210.21 223.7,210.43 224.4,210.61 225.1,210.77 225.8,210.91 226.5,211.03 227.2,211.14 227.9,211.24 228.6,211.32 229.3,211.40 230.0,211.46 230.7,211.52 231.4,211.58 232.1,211.63 232.8,211.67 233.5,211.71 234.2,211.74 234.9,211.78 235.6,211.81 236.3,211.83 237.0,211.86 237.7,211.88 238.4,211.90 239.1,211.92 239.8,211.94 240.5,211.95 241.2,211.97 241.9,211.98 242.6,211.99 243.3,212.00 244.0,212.02 244.7,212.03 245.4,212.03 246.1,212.04 246.8,212.05 247.5,212.06 248.2,212.07 248.9,212.07 249.6,212.08 250.3,212.08 251.0,212.09 251.7,212.09 252.4,212.10 253.1,212.10 253.8,212.11 254.5,212.11 255.2,212.12 255.9,212.12 256.6,212.12 257.3,212.13 258.0,212.13 258.7,212.13 259.4,212.13 260.1,212.14 260.8,212.14 261.5,212.14 262.2,212.14 262.9,212.15 263.6,212.15 264.3,212.15 265.0,212.15 265.7,212.15 266.4,212.16 267.1,212.16 267.8,212.16 268.5,212.16 269.2,212.16" fill="none" stroke="#4b72c8" stroke-width="1.0"/>
<polyline points="163.5,212.18 164.2,212.18 164.9,212.18 165.6,212.18 166.3,212.18 167.0,212.17 167.7,212.17 168.4,212.17 169.1,212.17 169.8,212.17 170.5,212.17 171.2,212.16 171.9,212.16 172.6,212.16 173.3,212.16 174.0,212.15 174.7,212.15 175.4,212.15 176.1,212.15 176.8,212.14 177.5,212.14 178.2,212.13 178.9,212.13 179.6,212.12 180.3,212.12 181.0,212.11 181.7,212.11 182.4,212.10 183.1,212.09 183.8,212.08 184.5,212.07 185.2,212.06 185.9,212.05 186.6,212.03 187.3,212.02 188.0,212.00 188.7,211.98 189.4,211.96 190.1,211.93 190.8,211.90 191.5,211.87 192.2,211.83 192.9,211.78 193.6,211.73 194.3,211.66 195.0,211.59 195.7,211.51 196.4,211.41 197.1,211.29 197.8,211.14 198.5,210.98 199.2,210.77 199.9,210.53 200.6,210.25 201.3,209.90 202.0,209.50 202.7,209.03 203.4,208.50 204.1,207.91 204.8,207.29 205.5,206.67 206.2,206.11 206.9,205.68 207.6,205.44 208.3,205.42 209.0,205.63 209.7,206.04 210.4,206.59 211.1,207.20 211.8,207.82 212.5,208.42 213.2,208.96 213.9,209.44 214.6,209.85 215.3,210.20 216.0,210.49 216.7,210.74 217.4,210.95 218.1,211.12 218.8,211.27 219.5,211.39 220.2,211.49 220.9,211.58 221.6,211.65 222.3,211.72 223.0,211.77 223.7,211.82 224.4,211.86 225.1,211.89 225.8,211.93 226.5,211.95 227.2,211.98 227.9,212.00 228.6,212.01 229.3,212.03 230.0,212.05 230.7,212.06 231.4,212.07 232.1,212.08 232.8,212.09 233.5,212.10 234.2,212.11 234.9,212.11 235.6,212.12 236.3,212.12 237.0,212.13 237.7,212.13 238.4,212.14 239.1,212.14 239.8,212.15 240.5,212.15 241.2,212.15 241.9,212.15 242.6,212.16 243.3,212.16 244.0,212.16 244.7,212.16 245.4,212.17 246.1,212.17 246.8,212.17 247.5,212.17 248.2,212.17 248.9,212.17 249.6,212.17 250.3,212.18 251.0,212.18 251.7,212.18 252.4,212.18 253.1,212.18 253.8,212.18 254.5,212.18 255.2,212.18 255.9,212.18 256.6,212.18 257.3,212.18 258.0,212.19 258.7,212.19 259.4,212.19 260.1,212.19 260.8,212.19 261.5,212.19 262.2,212.19 262.9,212.19 263.6,212.19 264.3,212.19 265.0,212.19 265.7,212.19 266.4,212.19 267.1,212.19 267.8,212.19 268.5,212.19 269.2,212.19" fill="none" stroke="#777777" stroke-width="1.0"/>
<line x1="207" y1="127" x2="207" y2="213.5" stroke="#999" stroke-width="0.6" stroke-dasharray="1.2,1.4"/>
<rect x="256" y="175.6" width="13" height="35.6" fill="#10109a" stroke="#0a0a5a" stroke-width="0.8"/>
<rect x="257.5" y="191.5" width="10" height="16.5" fill="#3ec4f2"/>
<rect x="257.5" y="178" width="10" height="13" fill="#1818c8"/>
<line x1="258" y1="179.6" x2="267" y2="179.6" stroke="#6a8af0" stroke-width="0.6"/>
<rect x="163.5" y="127" width="106.30000000000001" height="86.5" fill="none" stroke="#555" stroke-width="0.8"/>
<line x1="163.0" y1="213.5" x2="163.0" y2="212.0" stroke="#555" stroke-width="0.5"/>
<text x="163.0" y="219.3" font-size="4.0" font-family="Liberation Sans" font-weight="bold" fill="#333" text-anchor="middle" >400</text>
<line x1="177.7" y1="213.5" x2="177.7" y2="212.0" stroke="#555" stroke-width="0.5"/>
<text x="177.7" y="219.3" font-size="4.0" font-family="Liberation Sans" font-weight="bold" fill="#333" text-anchor="middle" >420</text>
<line x1="192.3" y1="213.5" x2="192.3" y2="212.0" stroke="#555" stroke-width="0.5"/>
<text x="192.3" y="219.3" font-size="4.0" font-family="Liberation Sans" font-weight="bold" fill="#333" text-anchor="middle" >440</text>
<line x1="206.9" y1="213.5" x2="206.9" y2="212.0" stroke="#555" stroke-width="0.5"/>
<text x="206.9" y="219.3" font-size="4.0" font-family="Liberation Sans" font-weight="bold" fill="#333" text-anchor="middle" >460</text>
<line x1="221.6" y1="213.5" x2="221.6" y2="212.0" stroke="#555" stroke-width="0.5"/>
<text x="221.6" y="219.3" font-size="4.0" font-family="Liberation Sans" font-weight="bold" fill="#333" text-anchor="middle" >480</text>
<line x1="236.2" y1="213.5" x2="236.2" y2="212.0" stroke="#555" stroke-width="0.5"/>
<text x="236.2" y="219.3" font-size="4.0" font-family="Liberation Sans" font-weight="bold" fill="#333" text-anchor="middle" >500</text>
<line x1="250.9" y1="213.5" x2="250.9" y2="212.0" stroke="#555" stroke-width="0.5"/>
<text x="250.9" y="219.3" font-size="4.0" font-family="Liberation Sans" font-weight="bold" fill="#333" text-anchor="middle" >520</text>
<line x1="265.6" y1="213.5" x2="265.6" y2="212.0" stroke="#555" stroke-width="0.5"/>
<text x="265.6" y="219.3" font-size="4.0" font-family="Liberation Sans" font-weight="bold" fill="#333" text-anchor="middle" >540</text>
<text x="216.3" y="224" font-size="4.9" font-family="Liberation Sans" font-weight="bold" fill="#111" text-anchor="middle" >Wavelength (nm)</text>
<text x="0" y="0" font-size="4.6" font-family="Liberation Sans" font-weight="bold" fill="#222" text-anchor="middle" transform="translate(161,162.5) rotate(-90)">Emission Intensity</text>
<line x1="232" y1="129.5" x2="241.2" y2="129.5" stroke="#8a9a8a" stroke-width="1"/>
<text x="241.8" y="130.9" font-size="3.7" font-family="Liberation Sans" font-weight="bold" fill="#333" text-anchor="start" >Pristine</text>
<line x1="232" y1="134.4" x2="241.2" y2="134.4" stroke="#4b72c8" stroke-width="1"/>
<text x="241.8" y="135.8" font-size="3.7" font-family="Liberation Sans" font-weight="bold" fill="#333" text-anchor="start" >Pb(NO<tspan font-size="2.6" dy="1">3</tspan><tspan dy="-1">)</tspan><tspan font-size="2.6" dy="1">2</tspan></text>
<line x1="232" y1="139.8" x2="241.2" y2="139.8" stroke="#3f9f9a" stroke-width="1"/>
<text x="241.8" y="141.20000000000002" font-size="3.7" font-family="Liberation Sans" font-weight="bold" fill="#333" text-anchor="start" >Zn(NO<tspan font-size="2.6" dy="1">3</tspan><tspan dy="-1">)</tspan><tspan font-size="2.6" dy="1">2</tspan><tspan dy="-1"> 6H</tspan><tspan font-size="2.6" dy="1">2</tspan><tspan dy="-1">O</tspan></text>
<line x1="232" y1="144.5" x2="241.2" y2="144.5" stroke="#cc99e6" stroke-width="1"/>
<text x="241.8" y="145.9" font-size="3.7" font-family="Liberation Sans" font-weight="bold" fill="#333" text-anchor="start" >Cd(NO<tspan font-size="2.6" dy="1">3</tspan><tspan dy="-1">)</tspan><tspan font-size="2.6" dy="1">2</tspan><tspan dy="-1"> 4H</tspan><tspan font-size="2.6" dy="1">2</tspan><tspan dy="-1">O</tspan></text>
<line x1="232" y1="150" x2="241.2" y2="150" stroke="#e8c34a" stroke-width="1"/>
<text x="241.8" y="151.4" font-size="3.7" font-family="Liberation Sans" font-weight="bold" fill="#333" text-anchor="start" >Y(NO<tspan font-size="2.6" dy="1">3</tspan><tspan dy="-1">)</tspan><tspan font-size="2.6" dy="1">3</tspan><tspan dy="-1"> 6H</tspan><tspan font-size="2.6" dy="1">2</tspan><tspan dy="-1">O</tspan></text>
<line x1="232" y1="155" x2="241.2" y2="155" stroke="#c0704a" stroke-width="1"/>
<text x="241.8" y="156.4" font-size="3.7" font-family="Liberation Sans" font-weight="bold" fill="#333" text-anchor="start" >Ni(NO<tspan font-size="2.6" dy="1">3</tspan><tspan dy="-1">)</tspan><tspan font-size="2.6" dy="1">2</tspan><tspan dy="-1"> 6H</tspan><tspan font-size="2.6" dy="1">2</tspan><tspan dy="-1">O</tspan></text>
<text x="147" y="137.5" font-size="11" font-family="Liberation Serif" font-weight="bold" fill="#111" text-anchor="start" >(e)</text>
<circle cx="168" cy="121.6" r="1.4" fill="#8a6a2a"/>
<text x="170.2" y="123.3" font-size="4.8" font-family="Liberation Serif" font-weight="bold" fill="#333" text-anchor="start" >Br</text>
<circle cx="196" cy="121.6" r="1.4" fill="#4a9a4a"/>
<text x="198.3" y="123.3" font-size="4.8" font-family="Liberation Serif" font-weight="bold" fill="#333" text-anchor="start" >Cl</text>
<rect x="33" y="246" width="16" height="14" fill="#e4f7fa"/>
<rect x="49" y="236" width="16" height="12" fill="#e4f7fa"/>
<rect x="40" y="244" width="10" height="8" fill="#e4f7fa"/>
<rect x="62" y="230" width="20" height="12" fill="#e4f7fa"/>
<rect x="84" y="244" width="12" height="12" fill="#e4f7fa"/>
<rect x="96" y="252" width="8" height="10" fill="#e4f7fa"/>
<rect x="100" y="258" width="9" height="12" fill="#e4f7fa"/>
<rect x="108" y="280" width="10" height="10" fill="#e4f7fa"/>
<rect x="116" y="286" width="10" height="14" fill="#e4f7fa"/>
<rect x="124" y="296" width="8" height="10" fill="#e4f7fa"/>
<polyline points="111,292 116,298 121,304 125,307.5" fill="none" stroke="#d4d4d4" stroke-width="3"/>
<polyline points="32.7,288 38.2,286.8 43.6,281.3 49,278.6 53.2,275.9 57.2,270.4 61.3,269 68.1,270.4 75,269.9 81.8,271.2 87.2,273.1 94,275.9 99.5,280 105,286.8 110.4,292.2 114.5,299 118.6,305.8 120,307.8" fill="none" stroke="#9a9a9a" stroke-width="1.0"/>
<circle cx="32.7" cy="288" r="1.3" fill="#fff" stroke="#b0b0b0" stroke-width="0.5"/>
<circle cx="43.6" cy="281.3" r="1.3" fill="#fff" stroke="#b0b0b0" stroke-width="0.5"/>
<circle cx="53.2" cy="275.9" r="1.3" fill="#fff" stroke="#b0b0b0" stroke-width="0.5"/>
<circle cx="61.3" cy="269" r="1.3" fill="#fff" stroke="#b0b0b0" stroke-width="0.5"/>
<circle cx="75" cy="269.9" r="1.3" fill="#fff" stroke="#b0b0b0" stroke-width="0.5"/>
<circle cx="87.2" cy="273.1" r="1.3" fill="#fff" stroke="#b0b0b0" stroke-width="0.5"/>
<circle cx="99.5" cy="280" r="1.3" fill="#fff" stroke="#b0b0b0" stroke-width="0.5"/>
<circle cx="110.4" cy="292.2" r="1.3" fill="#fff" stroke="#b0b0b0" stroke-width="0.5"/>
<circle cx="118.6" cy="305.8" r="1.3" fill="#fff" stroke="#b0b0b0" stroke-width="0.5"/>
<polyline points="32.7,255.4 40.9,250 46.3,244.5 51.8,238.5 57.2,236.3 62.7,235.8 68.1,239 73.6,244.5 77.7,247.2 84.5,248 90,251.3 95.4,258.1 100.8,266.3 106.3,274.5 111.7,281.3 117.2,287.6 122.6,293.6 128.1,299 132.2,303.1" fill="none" stroke="#2c6a9a" stroke-width="1.0"/>
<circle cx="33" cy="255.2" r="1.45" fill="#fff" stroke="#3a80b0" stroke-width="0.5"/>
<circle cx="41" cy="249.9" r="1.45" fill="#fff" stroke="#3a80b0" stroke-width="0.5"/>
<circle cx="46" cy="244.8" r="1.45" fill="#fff" stroke="#3a80b0" stroke-width="0.5"/>
<circle cx="52" cy="238.4" r="1.45" fill="#fff" stroke="#3a80b0" stroke-width="0.5"/>
<circle cx="57" cy="236.4" r="1.45" fill="#fff" stroke="#3a80b0" stroke-width="0.5"/>
<circle cx="64.5" cy="236.9" r="1.45" fill="#fff" stroke="#3a80b0" stroke-width="0.5"/>
<circle cx="70" cy="240.9" r="1.45" fill="#fff" stroke="#3a80b0" stroke-width="0.5"/>
<circle cx="78" cy="247.2" r="1.45" fill="#fff" stroke="#3a80b0" stroke-width="0.5"/>
<circle cx="83" cy="247.8" r="1.45" fill="#fff" stroke="#3a80b0" stroke-width="0.5"/>
<circle cx="88" cy="250.1" r="1.45" fill="#fff" stroke="#3a80b0" stroke-width="0.5"/>
<circle cx="101" cy="266.6" r="1.45" fill="#fff" stroke="#3a80b0" stroke-width="0.5"/>
<circle cx="105.5" cy="273.3" r="1.45" fill="#fff" stroke="#3a80b0" stroke-width="0.5"/>
<circle cx="109" cy="277.9" r="1.45" fill="#fff" stroke="#3a80b0" stroke-width="0.5"/>
<circle cx="112" cy="281.6" r="1.45" fill="#fff" stroke="#3a80b0" stroke-width="0.5"/>
<circle cx="115" cy="285.1" r="1.45" fill="#fff" stroke="#3a80b0" stroke-width="0.5"/>
<circle cx="118" cy="288.5" r="1.45" fill="#fff" stroke="#3a80b0" stroke-width="0.5"/>
<circle cx="121" cy="291.8" r="1.45" fill="#fff" stroke="#3a80b0" stroke-width="0.5"/>
<circle cx="124" cy="295.0" r="1.45" fill="#fff" stroke="#3a80b0" stroke-width="0.5"/>
<circle cx="127" cy="297.9" r="1.45" fill="#fff" stroke="#3a80b0" stroke-width="0.5"/>
<circle cx="130" cy="300.9" r="1.45" fill="#fff" stroke="#3a80b0" stroke-width="0.5"/>
<rect x="33" y="222" width="99" height="85.80000000000001" fill="none" stroke="#555" stroke-width="0.8"/>
<line x1="33" y1="307.5" x2="34.5" y2="307.5" stroke="#777" stroke-width="0.5"/>
<line x1="132" y1="307.5" x2="130.5" y2="307.5" stroke="#777" stroke-width="0.5"/>
<text x="30.5" y="309.1" font-size="4.5" font-family="Liberation Sans" fill="#333" text-anchor="end" >0</text>
<line x1="33" y1="284.5" x2="34.5" y2="284.5" stroke="#777" stroke-width="0.5"/>
<line x1="132" y1="284.5" x2="130.5" y2="284.5" stroke="#777" stroke-width="0.5"/>
<text x="30.5" y="286.1" font-size="4.5" font-family="Liberation Sans" fill="#333" text-anchor="end" >2</text>
<line x1="33" y1="261.4" x2="34.5" y2="261.4" stroke="#777" stroke-width="0.5"/>
<line x1="132" y1="261.4" x2="130.5" y2="261.4" stroke="#777" stroke-width="0.5"/>
<text x="30.5" y="263.0" font-size="4.5" font-family="Liberation Sans" fill="#333" text-anchor="end" >4</text>
<line x1="33" y1="238.6" x2="34.5" y2="238.6" stroke="#777" stroke-width="0.5"/>
<line x1="132" y1="238.6" x2="130.5" y2="238.6" stroke="#777" stroke-width="0.5"/>
<text x="30.5" y="240.2" font-size="4.5" font-family="Liberation Sans" fill="#333" text-anchor="end" >6</text>
<line x1="47.5" y1="307.8" x2="47.5" y2="306.3" stroke="#777" stroke-width="0.5"/>
<text x="47.5" y="314" font-size="4.6" font-family="Liberation Sans" fill="#333" text-anchor="middle" >10<tspan font-size="3" dy="-1.9">-1</tspan></text>
<line x1="75.4" y1="307.8" x2="75.4" y2="306.3" stroke="#777" stroke-width="0.5"/>
<text x="75.4" y="314" font-size="4.6" font-family="Liberation Sans" fill="#333" text-anchor="middle" >10<tspan font-size="3" dy="-1.9">0</tspan></text>
<line x1="103" y1="307.8" x2="103" y2="306.3" stroke="#777" stroke-width="0.5"/>
<text x="103" y="314" font-size="4.6" font-family="Liberation Sans" fill="#333" text-anchor="middle" >10<tspan font-size="3" dy="-1.9">1</tspan></text>
<line x1="131" y1="307.8" x2="131" y2="306.3" stroke="#777" stroke-width="0.5"/>
<text x="131" y="314" font-size="4.6" font-family="Liberation Sans" fill="#333" text-anchor="middle" >10<tspan font-size="3" dy="-1.9">2</tspan></text>
<line x1="36.4" y1="307.8" x2="36.4" y2="306.8" stroke="#666" stroke-width="0.4"/>
<line x1="36.4" y1="222" x2="36.4" y2="223" stroke="#666" stroke-width="0.4"/>
<line x1="39.1" y1="307.8" x2="39.1" y2="306.8" stroke="#666" stroke-width="0.4"/>
<line x1="39.1" y1="222" x2="39.1" y2="223" stroke="#666" stroke-width="0.4"/>
<line x1="41.3" y1="307.8" x2="41.3" y2="306.8" stroke="#666" stroke-width="0.4"/>
<line x1="41.3" y1="222" x2="41.3" y2="223" stroke="#666" stroke-width="0.4"/>
<line x1="43.2" y1="307.8" x2="43.2" y2="306.8" stroke="#666" stroke-width="0.4"/>
<line x1="43.2" y1="222" x2="43.2" y2="223" stroke="#666" stroke-width="0.4"/>
<line x1="44.8" y1="307.8" x2="44.8" y2="306.8" stroke="#666" stroke-width="0.4"/>
<line x1="44.8" y1="222" x2="44.8" y2="223" stroke="#666" stroke-width="0.4"/>
<line x1="46.2" y1="307.8" x2="46.2" y2="306.8" stroke="#666" stroke-width="0.4"/>
<line x1="46.2" y1="222" x2="46.2" y2="223" stroke="#666" stroke-width="0.4"/>
<line x1="55.9" y1="307.8" x2="55.9" y2="306.8" stroke="#666" stroke-width="0.4"/>
<line x1="55.9" y1="222" x2="55.9" y2="223" stroke="#666" stroke-width="0.4"/>
<line x1="60.8" y1="307.8" x2="60.8" y2="306.8" stroke="#666" stroke-width="0.4"/>
<line x1="60.8" y1="222" x2="60.8" y2="223" stroke="#666" stroke-width="0.4"/>
<line x1="64.2" y1="307.8" x2="64.2" y2="306.8" stroke="#666" stroke-width="0.4"/>
<line x1="64.2" y1="222" x2="64.2" y2="223" stroke="#666" stroke-width="0.4"/>
<line x1="66.9" y1="307.8" x2="66.9" y2="306.8" stroke="#666" stroke-width="0.4"/>
<line x1="66.9" y1="222" x2="66.9" y2="223" stroke="#666" stroke-width="0.4"/>
<line x1="69.1" y1="307.8" x2="69.1" y2="306.8" stroke="#666" stroke-width="0.4"/>
<line x1="69.1" y1="222" x2="69.1" y2="223" stroke="#666" stroke-width="0.4"/>
<line x1="71.0" y1="307.8" x2="71.0" y2="306.8" stroke="#666" stroke-width="0.4"/>
<line x1="71.0" y1="222" x2="71.0" y2="223" stroke="#666" stroke-width="0.4"/>
<line x1="72.6" y1="307.8" x2="72.6" y2="306.8" stroke="#666" stroke-width="0.4"/>
<line x1="72.6" y1="222" x2="72.6" y2="223" stroke="#666" stroke-width="0.4"/>
<line x1="74.0" y1="307.8" x2="74.0" y2="306.8" stroke="#666" stroke-width="0.4"/>
<line x1="74.0" y1="222" x2="74.0" y2="223" stroke="#666" stroke-width="0.4"/>
<line x1="83.8" y1="307.8" x2="83.8" y2="306.8" stroke="#666" stroke-width="0.4"/>
<line x1="83.8" y1="222" x2="83.8" y2="223" stroke="#666" stroke-width="0.4"/>
<line x1="88.7" y1="307.8" x2="88.7" y2="306.8" stroke="#666" stroke-width="0.4"/>
<line x1="88.7" y1="222" x2="88.7" y2="223" stroke="#666" stroke-width="0.4"/>
<line x1="92.1" y1="307.8" x2="92.1" y2="306.8" stroke="#666" stroke-width="0.4"/>
<line x1="92.1" y1="222" x2="92.1" y2="223" stroke="#666" stroke-width="0.4"/>
<line x1="94.8" y1="307.8" x2="94.8" y2="306.8" stroke="#666" stroke-width="0.4"/>
<line x1="94.8" y1="222" x2="94.8" y2="223" stroke="#666" stroke-width="0.4"/>
<line x1="97.0" y1="307.8" x2="97.0" y2="306.8" stroke="#666" stroke-width="0.4"/>
<line x1="97.0" y1="222" x2="97.0" y2="223" stroke="#666" stroke-width="0.4"/>
<line x1="98.9" y1="307.8" x2="98.9" y2="306.8" stroke="#666" stroke-width="0.4"/>
<line x1="98.9" y1="222" x2="98.9" y2="223" stroke="#666" stroke-width="0.4"/>
<line x1="100.5" y1="307.8" x2="100.5" y2="306.8" stroke="#666" stroke-width="0.4"/>
<line x1="100.5" y1="222" x2="100.5" y2="223" stroke="#666" stroke-width="0.4"/>
<line x1="101.9" y1="307.8" x2="101.9" y2="306.8" stroke="#666" stroke-width="0.4"/>
<line x1="101.9" y1="222" x2="101.9" y2="223" stroke="#666" stroke-width="0.4"/>
<line x1="111.4" y1="307.8" x2="111.4" y2="306.8" stroke="#666" stroke-width="0.4"/>
<line x1="111.4" y1="222" x2="111.4" y2="223" stroke="#666" stroke-width="0.4"/>
<line x1="116.3" y1="307.8" x2="116.3" y2="306.8" stroke="#666" stroke-width="0.4"/>
<line x1="116.3" y1="222" x2="116.3" y2="223" stroke="#666" stroke-width="0.4"/>
<line x1="119.7" y1="307.8" x2="119.7" y2="306.8" stroke="#666" stroke-width="0.4"/>
<line x1="119.7" y1="222" x2="119.7" y2="223" stroke="#666" stroke-width="0.4"/>
<line x1="122.4" y1="307.8" x2="122.4" y2="306.8" stroke="#666" stroke-width="0.4"/>
<line x1="122.4" y1="222" x2="122.4" y2="223" stroke="#666" stroke-width="0.4"/>
<line x1="124.6" y1="307.8" x2="124.6" y2="306.8" stroke="#666" stroke-width="0.4"/>
<line x1="124.6" y1="222" x2="124.6" y2="223" stroke="#666" stroke-width="0.4"/>
<line x1="126.5" y1="307.8" x2="126.5" y2="306.8" stroke="#666" stroke-width="0.4"/>
<line x1="126.5" y1="222" x2="126.5" y2="223" stroke="#666" stroke-width="0.4"/>
<line x1="128.1" y1="307.8" x2="128.1" y2="306.8" stroke="#666" stroke-width="0.4"/>
<line x1="128.1" y1="222" x2="128.1" y2="223" stroke="#666" stroke-width="0.4"/>
<line x1="129.5" y1="307.8" x2="129.5" y2="306.8" stroke="#666" stroke-width="0.4"/>
<line x1="129.5" y1="222" x2="129.5" y2="223" stroke="#666" stroke-width="0.4"/>
<line x1="47.5" y1="222" x2="47.5" y2="223.5" stroke="#666" stroke-width="0.5"/>
<line x1="75.4" y1="222" x2="75.4" y2="223.5" stroke="#666" stroke-width="0.5"/>
<line x1="103" y1="222" x2="103" y2="223.5" stroke="#666" stroke-width="0.5"/>
<text x="82.3" y="323.5" font-size="6.7" font-family="Liberation Sans" fill="#222" text-anchor="middle" >Current density (mA/cm<tspan font-size="4.4" dy="-2.6">2</tspan><tspan dy="2.6">)</tspan></text>
<text x="0" y="0" font-size="6.3" font-family="Liberation Sans" fill="#222" text-anchor="middle" transform="translate(26.3,265) rotate(-90)">EQE (%)</text>
<line x1="95.5" y1="229.5" x2="106.4" y2="229.5" stroke="#aaa" stroke-width="0.9"/><circle cx="101" cy="229.5" r="1.2" fill="#fff" stroke="#aaa" stroke-width="0.4"/>
<line x1="95.5" y1="234.6" x2="106.4" y2="234.6" stroke="#2c6a9a" stroke-width="0.9"/><circle cx="101" cy="234.6" r="1.2" fill="#fff" stroke="#3a80b0" stroke-width="0.45"/>
<text x="107.5" y="231.2" font-size="4.6" font-family="Liberation Sans" fill="#777" text-anchor="start" >Pristine</text>
<text x="107.5" y="236.3" font-size="4.9" font-family="Liberation Sans" fill="#444" text-anchor="start" >With DAT</text>
<text x="4.1" y="227" font-size="11" font-family="Liberation Serif" font-weight="bold" fill="#111" text-anchor="start" >(g)</text>
<rect x="168" y="236" width="14" height="12" fill="#e6f8f8"/>
<rect x="182" y="230" width="10" height="10" fill="#e6f8f8"/>
<rect x="200" y="238" width="16" height="8" fill="#e6f8f8"/>
<rect x="216" y="240" width="10" height="8" fill="#e6f8f8"/>
<rect x="232" y="243" width="12" height="8" fill="#e6f8f8"/>
<rect x="244" y="246" width="12" height="8" fill="#e6f8f8"/>
<rect x="256" y="250" width="14" height="10" fill="#e6f8f8"/>
<rect x="170" y="262" width="8" height="8" fill="#fcf0f3"/>
<rect x="178" y="292" width="92" height="14" fill="#fdf3f6"/>
<polyline points="170.5,240 175.2,266.4 179.5,283 184.5,287.8 189.5,295.5 194,299.5 199,301 203.7,302.4 208.6,303.5 213,304.1 218,304.5 222.7,304.6 227.5,304.7 232.2,304.7 237,304.7 241.8,304.7 246.5,304.7 251.3,304.7 256,304.7 260.8,304.7 265.5,304.7" fill="none" stroke="#4a3a3a" stroke-width="0.9"/>
<circle cx="170.5" cy="240" r="1.25" fill="#f0dcc8" stroke="#a86a40" stroke-width="0.6"/>
<circle cx="175.2" cy="266.4" r="1.25" fill="#f0dcc8" stroke="#a86a40" stroke-width="0.6"/>
<circle cx="179.5" cy="283" r="1.25" fill="#f0dcc8" stroke="#a86a40" stroke-width="0.6"/>
<circle cx="184.5" cy="287.8" r="1.25" fill="#f0dcc8" stroke="#a86a40" stroke-width="0.6"/>
<circle cx="189.5" cy="295.5" r="1.25" fill="#f0dcc8" stroke="#a86a40" stroke-width="0.6"/>
<circle cx="194" cy="299.5" r="1.25" fill="#f0dcc8" stroke="#a86a40" stroke-width="0.6"/>
<circle cx="199" cy="301" r="1.25" fill="#f0dcc8" stroke="#a86a40" stroke-width="0.6"/>
<circle cx="203.7" cy="302.4" r="1.25" fill="#f0dcc8" stroke="#a86a40" stroke-width="0.6"/>
<circle cx="208.6" cy="303.5" r="1.25" fill="#f0dcc8" stroke="#a86a40" stroke-width="0.6"/>
<circle cx="213" cy="304.1" r="1.25" fill="#f0dcc8" stroke="#a86a40" stroke-width="0.6"/>
<circle cx="218" cy="304.5" r="1.25" fill="#f0dcc8" stroke="#a86a40" stroke-width="0.6"/>
<circle cx="222.7" cy="304.6" r="1.25" fill="#f0dcc8" stroke="#a86a40" stroke-width="0.6"/>
<circle cx="227.5" cy="304.7" r="1.25" fill="#f0dcc8" stroke="#a86a40" stroke-width="0.6"/>
<circle cx="232.2" cy="304.7" r="1.25" fill="#f0dcc8" stroke="#a86a40" stroke-width="0.6"/>
<circle cx="237" cy="304.7" r="1.25" fill="#f0dcc8" stroke="#a86a40" stroke-width="0.6"/>
<circle cx="241.8" cy="304.7" r="1.25" fill="#f0dcc8" stroke="#a86a40" stroke-width="0.6"/>
<circle cx="246.5" cy="304.7" r="1.25" fill="#f0dcc8" stroke="#a86a40" stroke-width="0.6"/>
<circle cx="251.3" cy="304.7" r="1.25" fill="#f0dcc8" stroke="#a86a40" stroke-width="0.6"/>
<circle cx="256" cy="304.7" r="1.25" fill="#f0dcc8" stroke="#a86a40" stroke-width="0.6"/>
<circle cx="260.8" cy="304.7" r="1.25" fill="#f0dcc8" stroke="#a86a40" stroke-width="0.6"/>
<circle cx="265.5" cy="304.7" r="1.25" fill="#f0dcc8" stroke="#a86a40" stroke-width="0.6"/>
<polyline points="169.5,239.5 175,239.5 179.5,232 184,233.6 189,240.5 194,242.7 199,241 203.7,243 208.2,237.5 213,237.5 217.8,239.6 222.7,242.7 227.3,244.5 232.4,242.4 237.3,247.6 242.2,247.3 247,248.2 251.8,248.2 256.4,250.6 261.5,255.5 266.4,255.5" fill="none" stroke="#2a6a2a" stroke-width="1.0"/>
<rect x="167.8" y="237.8" width="3.4" height="3.4" fill="#3f8a22" stroke="#2a6018" stroke-width="0.4"/>
<rect x="173.3" y="237.8" width="3.4" height="3.4" fill="#3f8a22" stroke="#2a6018" stroke-width="0.4"/>
<rect x="177.8" y="230.3" width="3.4" height="3.4" fill="#3f8a22" stroke="#2a6018" stroke-width="0.4"/>
<rect x="182.3" y="231.9" width="3.4" height="3.4" fill="#3f8a22" stroke="#2a6018" stroke-width="0.4"/>
<rect x="187.3" y="238.8" width="3.4" height="3.4" fill="#3f8a22" stroke="#2a6018" stroke-width="0.4"/>
<rect x="192.3" y="241.0" width="3.4" height="3.4" fill="#3f8a22" stroke="#2a6018" stroke-width="0.4"/>
<rect x="197.3" y="239.3" width="3.4" height="3.4" fill="#3f8a22" stroke="#2a6018" stroke-width="0.4"/>
<rect x="202.0" y="241.3" width="3.4" height="3.4" fill="#3f8a22" stroke="#2a6018" stroke-width="0.4"/>
<rect x="206.5" y="235.8" width="3.4" height="3.4" fill="#3f8a22" stroke="#2a6018" stroke-width="0.4"/>
<rect x="211.3" y="235.8" width="3.4" height="3.4" fill="#3f8a22" stroke="#2a6018" stroke-width="0.4"/>
<rect x="216.10000000000002" y="237.9" width="3.4" height="3.4" fill="#3f8a22" stroke="#2a6018" stroke-width="0.4"/>
<rect x="221.0" y="241.0" width="3.4" height="3.4" fill="#3f8a22" stroke="#2a6018" stroke-width="0.4"/>
<rect x="225.60000000000002" y="242.8" width="3.4" height="3.4" fill="#3f8a22" stroke="#2a6018" stroke-width="0.4"/>
<rect x="230.70000000000002" y="240.70000000000002" width="3.4" height="3.4" fill="#3f8a22" stroke="#2a6018" stroke-width="0.4"/>
<rect x="235.60000000000002" y="245.9" width="3.4" height="3.4" fill="#3f8a22" stroke="#2a6018" stroke-width="0.4"/>
<rect x="240.5" y="245.60000000000002" width="3.4" height="3.4" fill="#3f8a22" stroke="#2a6018" stroke-width="0.4"/>
<rect x="245.3" y="246.5" width="3.4" height="3.4" fill="#3f8a22" stroke="#2a6018" stroke-width="0.4"/>
<rect x="250.10000000000002" y="246.5" width="3.4" height="3.4" fill="#3f8a22" stroke="#2a6018" stroke-width="0.4"/>
<rect x="254.7" y="248.9" width="3.4" height="3.4" fill="#3f8a22" stroke="#2a6018" stroke-width="0.4"/>
<rect x="259.8" y="253.8" width="3.4" height="3.4" fill="#3f8a22" stroke="#2a6018" stroke-width="0.4"/>
<rect x="264.7" y="253.8" width="3.4" height="3.4" fill="#3f8a22" stroke="#2a6018" stroke-width="0.4"/>
<rect x="168" y="227.3" width="102.5" height="80.39999999999998" fill="none" stroke="#333" stroke-width="0.8"/>
<line x1="168" y1="305.5" x2="169.8" y2="305.5" stroke="#333" stroke-width="0.6"/>
<text x="164.5" y="307.3" font-size="5.5" font-family="Liberation Serif" font-weight="bold" fill="#111" text-anchor="end" stroke="#111" stroke-width="0.1">0</text>
<line x1="168" y1="292.4" x2="169.8" y2="292.4" stroke="#333" stroke-width="0.6"/>
<text x="164.5" y="294.2" font-size="5.5" font-family="Liberation Serif" font-weight="bold" fill="#111" text-anchor="end" stroke="#111" stroke-width="0.1">0.2</text>
<line x1="168" y1="279.3" x2="169.8" y2="279.3" stroke="#333" stroke-width="0.6"/>
<text x="164.5" y="281.1" font-size="5.5" font-family="Liberation Serif" font-weight="bold" fill="#111" text-anchor="end" stroke="#111" stroke-width="0.1">0.4</text>
<line x1="168" y1="266.2" x2="169.8" y2="266.2" stroke="#333" stroke-width="0.6"/>
<text x="164.5" y="268.0" font-size="5.5" font-family="Liberation Serif" font-weight="bold" fill="#111" text-anchor="end" stroke="#111" stroke-width="0.1">0.6</text>
<line x1="168" y1="253.1" x2="169.8" y2="253.1" stroke="#333" stroke-width="0.6"/>
<text x="164.5" y="254.9" font-size="5.5" font-family="Liberation Serif" font-weight="bold" fill="#111" text-anchor="end" stroke="#111" stroke-width="0.1">0.8</text>
<line x1="168" y1="240.0" x2="169.8" y2="240.0" stroke="#333" stroke-width="0.6"/>
<text x="164.5" y="241.8" font-size="5.5" font-family="Liberation Serif" font-weight="bold" fill="#111" text-anchor="end" stroke="#111" stroke-width="0.1">1</text>
<line x1="170.5" y1="307.7" x2="170.5" y2="305.9" stroke="#333" stroke-width="0.6"/>
<text x="170.5" y="316.4" font-size="5.9" font-family="Liberation Serif" font-weight="bold" fill="#111" text-anchor="middle" stroke="#111" stroke-width="0.12">0</text>
<line x1="189.5" y1="307.7" x2="189.5" y2="305.9" stroke="#333" stroke-width="0.6"/>
<text x="189.5" y="316.4" font-size="5.9" font-family="Liberation Serif" font-weight="bold" fill="#111" text-anchor="middle" stroke="#111" stroke-width="0.12">4</text>
<line x1="208.5" y1="307.7" x2="208.5" y2="305.9" stroke="#333" stroke-width="0.6"/>
<text x="208.5" y="316.4" font-size="5.9" font-family="Liberation Serif" font-weight="bold" fill="#111" text-anchor="middle" stroke="#111" stroke-width="0.12">8</text>
<line x1="227.5" y1="307.7" x2="227.5" y2="305.9" stroke="#333" stroke-width="0.6"/>
<text x="227.5" y="316.4" font-size="5.9" font-family="Liberation Serif" font-weight="bold" fill="#111" text-anchor="middle" stroke="#111" stroke-width="0.12">12</text>
<line x1="246.5" y1="307.7" x2="246.5" y2="305.9" stroke="#333" stroke-width="0.6"/>
<text x="246.5" y="316.4" font-size="5.9" font-family="Liberation Serif" font-weight="bold" fill="#111" text-anchor="middle" stroke="#111" stroke-width="0.12">16</text>
<line x1="265.5" y1="307.7" x2="265.5" y2="305.9" stroke="#333" stroke-width="0.6"/>
<text x="265.5" y="316.4" font-size="5.9" font-family="Liberation Serif" font-weight="bold" fill="#111" text-anchor="middle" stroke="#111" stroke-width="0.12">20</text>
<line x1="180.0" y1="307.7" x2="180.0" y2="306.7" stroke="#333" stroke-width="0.5"/>
<line x1="199.0" y1="307.7" x2="199.0" y2="306.7" stroke="#333" stroke-width="0.5"/>
<line x1="218.0" y1="307.7" x2="218.0" y2="306.7" stroke="#333" stroke-width="0.5"/>
<line x1="237.0" y1="307.7" x2="237.0" y2="306.7" stroke="#333" stroke-width="0.5"/>
<line x1="256.0" y1="307.7" x2="256.0" y2="306.7" stroke="#333" stroke-width="0.5"/>
<line x1="168" y1="298.9" x2="169" y2="298.9" stroke="#333" stroke-width="0.5"/>
<line x1="168" y1="285.9" x2="169" y2="285.9" stroke="#333" stroke-width="0.5"/>
<line x1="168" y1="272.8" x2="169" y2="272.8" stroke="#333" stroke-width="0.5"/>
<line x1="168" y1="259.6" x2="169" y2="259.6" stroke="#333" stroke-width="0.5"/>
<line x1="168" y1="246.6" x2="169" y2="246.6" stroke="#333" stroke-width="0.5"/>
<text x="219.6" y="322" font-size="6.8" font-family="Liberation Sans" font-weight="bold" fill="#222" text-anchor="middle" >Time ( days )</text>
<text x="0" y="0" font-size="6.4" font-family="Liberation Sans" font-weight="bold" fill="#222" text-anchor="middle" transform="translate(154.8,270.2) rotate(-90)">Relative Intensity</text>
<line x1="203.6" y1="273" x2="217.3" y2="273" stroke="#2a6a2a" stroke-width="1"/><rect x="209" y="271.5" width="3" height="3" fill="#4c9a2a" stroke="#2a6a1a" stroke-width="0.4"/>
<line x1="203.6" y1="286.4" x2="217.3" y2="286.4" stroke="#4a3a3a" stroke-width="0.9"/><circle cx="210.5" cy="286.4" r="1.4" fill="#f4e0c8" stroke="#c08050" stroke-width="0.6"/>
<text x="218.5" y="275.5" font-size="6.9" font-family="Liberation Sans" font-weight="bold" fill="#222" text-anchor="start" >P-g-PQDs</text>
<text x="218.5" y="288.9" font-size="6.9" font-family="Liberation Sans" font-weight="bold" fill="#222" text-anchor="start" >g-PQDs</text>
<text x="141.7" y="234.3" font-size="10.2" font-family="Liberation Serif" font-weight="bold" fill="#111" text-anchor="start" >(h)</text>
<polyline points="54.10,39.00 55.02,38.42 55.40,37.84 55.01,37.27 54.08,36.69 53.16,36.11 52.80,35.53 53.21,34.95 54.14,34.38 55.05,33.80 55.40,33.22 54.98,32.64 54.03,32.06 53.13,31.48 52.80,30.91 53.24,30.33 54.19,29.75 55.08,29.17 55.40,28.59 54.94,28.02 53.99,27.44 53.10,26.86 52.81,26.28 53.28,25.70 54.23,25.12 55.11,24.55 55.39,23.97 54.91,23.39 53.94,22.81 53.07,22.23 52.81,21.66 53.31,21.08 54.28,20.50" fill="none" stroke="#7676a0" stroke-width="0.85"/>
<polyline points="64.10,39.00 65.04,38.41 65.40,37.82 64.96,37.23 64.00,36.64 63.10,36.05 62.81,35.46 63.31,34.88 64.30,34.29 65.17,33.70 65.38,33.11 64.80,32.52 63.80,31.93 62.98,31.34 62.85,30.75 63.49,30.16 64.50,29.57 65.27,28.98 65.32,28.39 64.62,27.80 63.61,27.21 62.89,26.62 62.92,26.04 63.67,25.45 64.69,24.86 65.34,24.27 65.24,23.68 64.43,23.09 63.42,22.50" fill="none" stroke="#7676a0" stroke-width="0.85"/>
<polyline points="73.60,39.00 74.52,38.42 74.90,37.85 74.52,37.27 73.59,36.70 72.68,36.12 72.30,35.54 72.69,34.97 73.61,34.39 74.53,33.82 74.90,33.24 74.51,32.67 73.58,32.09 72.67,31.51 72.30,30.94 72.70,30.36 73.62,29.79 74.54,29.21 74.90,28.63 74.50,28.06 73.57,27.48 72.66,26.91 72.30,26.33 72.71,25.76 73.64,25.18 74.55,24.60 74.90,24.03 74.49,23.45 73.56,22.88 72.65,22.30" fill="none" stroke="#7676a0" stroke-width="0.85"/>
<polyline points="51.00,40.00 51.18,38.91 50.98,38.24 50.25,38.18 49.16,38.51 48.12,38.79 47.49,38.60 47.40,37.82 47.62,36.69 47.75,35.65 47.43,35.12 46.59,35.17 45.48,35.54 44.50,35.74 44.00,35.42 44.00,34.53 44.24,33.38 44.29,32.43 43.85,32.03 42.93,32.18 41.81,32.55 40.91,32.66 40.52,32.21 40.61,31.23 40.84,30.08 40.81,29.23 40.25,28.96 39.25,29.20 38.14,29.55 37.35,29.56" fill="none" stroke="#7676a0" stroke-width="0.85"/>
<polyline points="81.00,39.00 81.91,39.64 82.59,39.74 82.97,39.11 83.14,37.99 83.34,36.93 83.78,36.45 84.52,36.70 85.45,37.39 86.32,37.95 86.94,37.90 87.26,37.12 87.42,35.96 87.65,34.99 88.16,34.67 88.96,35.06 89.90,35.77 90.73,36.23 91.28,36.02 91.55,35.12 91.70,33.95 91.98,33.09 92.56,32.93 93.40,33.43 94.34,34.14 95.12,34.48 95.60,34.10 95.83,33.10 95.99,31.95 96.32,31.22 96.97,31.23 97.85,31.82 98.77,32.50 99.50,32.70" fill="none" stroke="#7676a0" stroke-width="0.85"/>
<polyline points="49.50,48.00 48.88,47.08 48.28,46.74 47.71,47.19 47.15,48.17 46.58,49.09 46.00,49.40 45.40,48.91 44.78,47.94 44.16,47.09 43.57,46.90 43.00,47.50 42.44,48.52 41.87,49.36 41.29,49.50 40.68,48.88 40.06,47.88 39.45,47.13 38.86,47.10 38.29,47.82 37.73,48.86 37.16,49.59 36.57,49.57 35.96,48.83 35.34,47.83 34.73,47.20 34.14,47.33 33.58,48.16 33.02,49.19" fill="none" stroke="#7676a0" stroke-width="0.85"/>
<polyline points="49.50,56.50 48.88,55.58 48.28,55.24 47.71,55.69 47.15,56.67 46.58,57.59 46.00,57.90 45.40,57.41 44.78,56.44 44.16,55.59 43.57,55.40 43.00,56.00 42.44,57.02 41.87,57.86 41.29,58.00 40.68,57.38 40.06,56.38 39.45,55.63 38.86,55.60 38.29,56.32 37.73,57.36 37.16,58.09 36.57,58.07 35.96,57.33 35.34,56.33 34.73,55.70 34.14,55.83 33.58,56.66 33.02,57.69" fill="none" stroke="#7676a0" stroke-width="0.85"/>
<polyline points="49.50,64.50 48.88,63.58 48.28,63.24 47.71,63.69 47.15,64.67 46.58,65.59 46.00,65.90 45.40,65.41 44.78,64.44 44.16,63.59 43.57,63.40 43.00,64.00 42.44,65.02 41.87,65.86 41.29,66.00 40.68,65.38 40.06,64.38 39.45,63.63 38.86,63.60 38.29,64.32 37.73,65.36 37.16,66.09 36.57,66.07 35.96,65.33 35.34,64.33 34.73,63.70 34.14,63.83 33.58,64.66 33.02,65.69" fill="none" stroke="#7676a0" stroke-width="0.85"/>
<polyline points="80.50,46.50 81.08,47.42 81.66,47.80 82.23,47.41 82.81,46.48 83.39,45.56 83.97,45.20 84.55,45.61 85.12,46.54 85.70,47.45 86.28,47.80 86.86,47.38 87.44,46.43 88.02,45.53 88.59,45.20 89.17,45.64 89.75,46.59 90.33,47.48 90.91,47.80 91.48,47.34 92.06,46.39 92.64,45.50 93.22,45.21 93.80,45.68 94.38,46.63 94.95,47.51 95.53,47.79 96.11,47.31 96.69,46.34 97.27,45.47 97.84,45.21 98.42,45.71 99.00,46.68" fill="none" stroke="#7676a0" stroke-width="0.85"/>
<polyline points="80.50,55.50 81.08,56.42 81.66,56.80 82.23,56.41 82.81,55.48 83.39,54.56 83.97,54.20 84.55,54.61 85.12,55.54 85.70,56.45 86.28,56.80 86.86,56.38 87.44,55.43 88.02,54.53 88.59,54.20 89.17,54.64 89.75,55.59 90.33,56.48 90.91,56.80 91.48,56.34 92.06,55.39 92.64,54.50 93.22,54.21 93.80,54.68 94.38,55.63 94.95,56.51 95.53,56.79 96.11,56.31 96.69,55.34 97.27,54.47 97.84,54.21 98.42,54.71 99.00,55.68" fill="none" stroke="#7676a0" stroke-width="0.85"/>
<polyline points="80.50,64.50 81.08,65.42 81.66,65.80 82.23,65.41 82.81,64.48 83.39,63.56 83.97,63.20 84.55,63.61 85.12,64.54 85.70,65.45 86.28,65.80 86.86,65.38 87.44,64.43 88.02,63.53 88.59,63.20 89.17,63.64 89.75,64.59 90.33,65.48 90.91,65.80 91.48,65.34 92.06,64.39 92.64,63.50 93.22,63.21 93.80,63.68 94.38,64.63 94.95,65.51 95.53,65.79 96.11,65.31 96.69,64.34 97.27,63.47 97.84,63.21 98.42,63.71 99.00,64.68" fill="none" stroke="#7676a0" stroke-width="0.85"/>
<polyline points="57.00,69.00 56.07,69.58 55.70,70.16 56.10,70.74 57.04,71.32 57.95,71.90 58.30,72.48 57.87,73.06 56.92,73.65 56.02,74.23 55.70,74.81 56.16,75.39 57.12,75.97 58.01,76.55 58.29,77.13 57.81,77.71 56.84,78.29 55.97,78.87 55.71,79.45 56.22,80.03 57.20,80.61 58.06,81.19 58.28,81.77 57.74,82.35 56.76,82.94 55.92,83.52 55.73,84.10 56.29,84.68 57.28,85.26 58.10,85.84 58.27,86.42 57.68,87.00" fill="none" stroke="#7676a0" stroke-width="0.85"/>
<polyline points="64.50,69.00 63.57,69.59 63.20,70.17 63.62,70.76 64.58,71.34 65.49,71.93 65.79,72.52 65.32,73.10 64.34,73.69 63.46,74.28 63.22,74.86 63.75,75.45 64.74,76.03 65.58,76.62 65.77,77.21 65.19,77.79 64.18,78.38 63.38,78.97 63.25,79.55 63.88,80.14 64.89,80.72 65.66,81.31 65.73,81.90 65.05,82.48 64.03,83.07 63.30,83.66 63.30,84.24 64.03,84.83 65.04,85.41 65.72,86.00" fill="none" stroke="#7676a0" stroke-width="0.85"/>
<polyline points="73.00,69.00 72.07,69.59 71.70,70.17 72.12,70.76 73.08,71.34 73.99,71.93 74.29,72.52 73.82,73.10 72.84,73.69 71.96,74.28 71.72,74.86 72.25,75.45 73.24,76.03 74.08,76.62 74.27,77.21 73.69,77.79 72.68,78.38 71.88,78.97 71.75,79.55 72.38,80.14 73.39,80.72 74.16,81.31 74.23,81.90 73.55,82.48 72.53,83.07 71.80,83.66 71.80,84.24 72.53,84.83 73.54,85.41 74.22,86.00" fill="none" stroke="#7676a0" stroke-width="0.85"/>
<polyline points="79.00,69.00 78.55,70.00 78.56,70.69 79.22,70.95 80.33,70.91 81.41,70.89 82.02,71.18 81.97,71.91 81.50,72.92 81.08,73.90 81.15,74.56 81.86,74.78 82.99,74.73 84.04,74.72 84.59,75.06 84.49,75.82 84.01,76.84 83.61,77.81 83.74,78.42 84.50,78.61 85.64,78.55 86.67,78.57 87.16,78.94 87.01,79.73 86.51,80.77 86.15,81.71 86.33,82.28 87.15,82.44 88.30,82.37 89.29,82.41 89.72,82.82 89.53,83.65" fill="none" stroke="#7676a0" stroke-width="0.85"/>
<polyline points="50.00,68.00 48.92,67.75 48.25,67.91 48.14,68.64 48.40,69.74 48.63,70.79 48.41,71.41 47.64,71.47 46.52,71.19 45.50,71.00 44.93,71.26 44.92,72.09 45.21,73.21 45.38,74.21 45.05,74.72 44.19,74.69 43.05,74.38 42.09,74.26 41.64,74.64 41.71,75.55 42.02,76.68 42.10,77.60 41.67,78.00 40.72,77.89 39.59,77.59" fill="none" stroke="#7676a0" stroke-width="0.85"/>
<rect x="49" y="39.5" width="32" height="30" fill="#c8eee0"/>
<path d="M49.0,39.5 L53.0,42.7 L57.0,39.5 L61.0,42.7 L65.0,39.5 L69.0,42.7 L73.0,39.5 L77.0,42.7 L81.0,39.5 L77.8,43.2 L81.0,47.0 L77.8,50.8 L81.0,54.5 L77.8,58.2 L81.0,62.0 L77.8,65.8 L81.0,69.5 L77.0,66.3 L73.0,69.5 L69.0,66.3 L65.0,69.5 L61.0,66.3 L57.0,69.5 L53.0,66.3 L49.0,69.5 L52.2,65.8 L49.0,62.0 L52.2,58.2 L49.0,54.5 L52.2,50.8 L49.0,47.0 L52.2,43.2Z" fill="#379556"/>
<path d="M53,43 L77,66 M77,43 L53,66" stroke="#3fa262" stroke-width="3" opacity="0.7"/>
<path d="M65,41 L65,68 M50.5,54.5 L79.5,54.5" stroke="#2a7a44" stroke-width="1.1"/>
<ellipse cx="61.9" cy="49.5" rx="2.4" ry="2.0" fill="#d8f4f0" transform="rotate(-35 61.9 49.5)"/><circle cx="61" cy="50.4" r="1.2" fill="#14243c"/>
<ellipse cx="70.9" cy="48.9" rx="2.4" ry="2.0" fill="#d8f4f0" transform="rotate(-35 70.9 48.9)"/><circle cx="70" cy="49.8" r="1.2" fill="#14243c"/>
<ellipse cx="61.9" cy="58.6" rx="2.4" ry="2.0" fill="#d8f4f0" transform="rotate(-35 61.9 58.6)"/><circle cx="61" cy="59.5" r="1.2" fill="#14243c"/>
<ellipse cx="70.9" cy="57.9" rx="2.4" ry="2.0" fill="#d8f4f0" transform="rotate(-35 70.9 57.9)"/><circle cx="70" cy="58.8" r="1.2" fill="#14243c"/>
<circle cx="82" cy="37" r="1.6" fill="#e0a050"/><circle cx="78.5" cy="39.5" r="1.1" fill="#c8c060"/><circle cx="49" cy="70" r="1.2" fill="#d09040"/><circle cx="55" cy="67" r="0.8" fill="#c04040"/><circle cx="59" cy="56" r="0.5" fill="#c04040"/>
<text x="84" y="35" font-size="3.6" font-family="Liberation Sans" fill="#d07030" text-anchor="start" >V<tspan font-size="2.5" dy="0.8">Pb</tspan></text>
<polyline points="198.60,40.00 199.55,39.40 199.90,38.81 199.44,38.21 198.45,37.62 197.56,37.02 197.32,36.42 197.88,35.83 198.90,35.23 199.72,34.63 199.85,34.04 199.19,33.44 198.16,32.85 197.41,32.25 197.40,31.65 198.15,31.06 199.18,30.46 199.84,29.87 199.73,29.27 198.90,28.67 197.89,28.08 197.32,27.48 197.55,26.88 198.44,26.29 199.43,25.69 199.90,25.10 199.55,24.50" fill="none" stroke="#7676a0" stroke-width="0.85"/>
<polyline points="206.60,40.00 207.55,39.40 207.90,38.81 207.44,38.21 206.45,37.62 205.56,37.02 205.32,36.42 205.88,35.83 206.90,35.23 207.72,34.63 207.85,34.04 207.19,33.44 206.16,32.85 205.41,32.25 205.40,31.65 206.15,31.06 207.18,30.46 207.84,29.87 207.73,29.27 206.90,28.67 205.89,28.08 205.32,27.48 205.55,26.88 206.44,26.29 207.43,25.69 207.90,25.10 207.55,24.50" fill="none" stroke="#7676a0" stroke-width="0.85"/>
<polyline points="182.70,40.50 182.60,39.42 182.26,38.82 181.57,38.90 180.64,39.47 179.72,40.03 179.03,40.11 178.69,39.50 178.59,38.42 178.49,37.34 178.15,36.75 177.46,36.83 176.53,37.40 175.61,37.96 174.92,38.03 174.58,37.43 174.49,36.35 174.38,35.27 174.04,34.68 173.35,34.76 172.42,35.33 171.50,35.89 170.81,35.96" fill="none" stroke="#7676a0" stroke-width="0.85"/>
<polyline points="215.70,40.50 216.65,41.07 217.33,41.13 217.67,40.48 217.76,39.37 217.87,38.29 218.25,37.75 218.99,37.92 219.96,38.52 220.88,39.04 221.51,38.99 221.79,38.25 221.87,37.10 222.01,36.08 222.45,35.65 223.24,35.91 224.22,36.54 225.10,37.00 225.68,36.84 225.91,36.00 225.98,34.83 226.16,33.89 226.65,33.57 227.49,33.92 228.47,34.56 229.32,34.94 229.84,34.66" fill="none" stroke="#7676a0" stroke-width="0.85"/>
<polyline points="183.70,48.40 183.11,47.46 182.52,47.10 181.94,47.53 181.35,48.49 180.76,49.40 180.17,49.69 179.58,49.20 179.00,48.22 178.41,47.35 177.82,47.12 177.23,47.68 176.64,48.67 176.06,49.51 175.47,49.66 174.88,49.04 174.29,48.04 173.70,47.25 173.12,47.17 172.53,47.84 171.94,48.85 171.35,49.59 170.76,49.60 170.18,48.88 169.59,47.86 169.00,47.18" fill="none" stroke="#7676a0" stroke-width="0.85"/>
<polyline points="183.70,60.90 183.11,59.96 182.52,59.60 181.94,60.03 181.35,60.99 180.76,61.90 180.17,62.19 179.58,61.70 179.00,60.72 178.41,59.85 177.82,59.62 177.23,60.18 176.64,61.17 176.06,62.01 175.47,62.16 174.88,61.54 174.29,60.54 173.70,59.75 173.12,59.67 172.53,60.34 171.94,61.35 171.35,62.09 170.76,62.10 170.18,61.38 169.59,60.36 169.00,59.68" fill="none" stroke="#7676a0" stroke-width="0.85"/>
<polyline points="182.70,70.00 181.58,70.04 180.97,70.38 181.08,71.14 181.64,72.17 182.10,73.13 181.97,73.75 181.14,73.96 179.95,73.96 178.96,74.07 178.60,74.56 178.92,75.45 179.51,76.49 179.80,77.36 179.42,77.83 178.41,77.94 177.22,77.94 176.42,78.16 176.32,78.80 176.79,79.77 177.34,80.79 177.42,81.54 176.79,81.87" fill="none" stroke="#7676a0" stroke-width="0.85"/>
<polyline points="215.70,50.70 216.29,51.63 216.87,52.00 217.46,51.58 218.04,50.62 218.63,49.71 219.22,49.41 219.80,49.88 220.39,50.86 220.98,51.74 221.56,51.98 222.15,51.45 222.73,50.46 223.32,49.62 223.91,49.43 224.49,50.01 225.08,51.02 225.67,51.82 226.25,51.95 226.84,51.32 227.42,50.31 228.01,49.54 228.60,49.47 229.18,50.15 229.77,51.17 230.36,51.90 230.94,51.90 231.53,51.17 232.11,50.16 232.70,49.48" fill="none" stroke="#7676a0" stroke-width="0.85"/>
<polyline points="215.70,59.80 216.29,60.73 216.87,61.10 217.46,60.68 218.04,59.72 218.63,58.81 219.22,58.51 219.80,58.98 220.39,59.96 220.98,60.84 221.56,61.08 222.15,60.55 222.73,59.56 223.32,58.72 223.91,58.53 224.49,59.11 225.08,60.12 225.67,60.92 226.25,61.05 226.84,60.42 227.42,59.41 228.01,58.64 228.60,58.57 229.18,59.25 229.77,60.27 230.36,61.00 230.94,61.00 231.53,60.27 232.11,59.26 232.70,58.58" fill="none" stroke="#7676a0" stroke-width="0.85"/>
<polyline points="215.70,68.90 215.28,69.90 215.30,70.59 215.96,70.84 217.05,70.78 218.13,70.73 218.76,71.00 218.75,71.71 218.31,72.73 217.90,73.72 217.96,74.39 218.65,74.61 219.76,74.54 220.82,74.50 221.41,74.79 221.37,75.53 220.92,76.55 220.53,77.54 220.62,78.18 221.34,78.38 222.46,78.30 223.51,78.27 224.07,78.59 223.99,79.35 223.53,80.38 223.16,81.35 223.28,81.97 224.04,82.15 225.17,82.06 226.20,82.05 226.72,82.39 226.61,83.17" fill="none" stroke="#7676a0" stroke-width="0.85"/>
<polyline points="194.00,71.00 193.06,71.59 192.70,72.19 193.15,72.78 194.13,73.37 195.03,73.97 195.29,74.56 194.75,75.15 193.74,75.74 192.90,76.34 192.74,76.93 193.36,77.52 194.38,78.12 195.16,78.71 195.22,79.30 194.52,79.90 193.50,80.49 192.79,81.08 192.83,81.68 193.60,82.27 194.62,82.86 195.25,83.46 195.11,84.05 194.28,84.64 193.27,85.23 192.72,85.83 192.96,86.42 193.85,87.01 194.83,87.61 195.30,88.20" fill="none" stroke="#7676a0" stroke-width="0.85"/>
<polyline points="205.50,71.00 204.56,71.59 204.20,72.19 204.65,72.78 205.63,73.37 206.53,73.97 206.79,74.56 206.25,75.15 205.24,75.74 204.40,76.34 204.24,76.93 204.86,77.52 205.88,78.12 206.66,78.71 206.72,79.30 206.02,79.90 205.00,80.49 204.29,81.08 204.33,81.68 205.10,82.27 206.12,82.86 206.75,83.46 206.61,84.05 205.78,84.64 204.77,85.23 204.22,85.83 204.46,86.42 205.35,87.01 206.33,87.61 206.80,88.20" fill="none" stroke="#7676a0" stroke-width="0.85"/>
<polygon points="186.4,36.6 184.7,37.5 183.0,36.6 183.0,34.6 184.7,33.6 186.4,34.6" fill="none" stroke="#6a6a6a" stroke-width="0.38"/><polyline points="186.7,36.6 188.3,37.8 190.0,37.3 191.0,38.6" fill="none" stroke="#6a6a6a" stroke-width="0.38"/><circle cx="186.4" cy="36.6" r="0.64" fill="#6a6a6a"/><circle cx="183.0" cy="36.6" r="0.64" fill="#6a6a6a"/><circle cx="184.7" cy="33.6" r="0.64" fill="#6a6a6a"/><circle cx="188.3" cy="37.8" r="0.64" fill="#6a6a6a"/><circle cx="190.0" cy="37.3" r="0.64" fill="#6a6a6a"/><circle cx="191.0" cy="38.6" r="0.64" fill="#6a6a6a"/><circle cx="181.7" cy="35.1" r="0.59" fill="#6a6a6a"/><line x1="182.8" y1="34.6" x2="181.7" y2="35.1" stroke="#6a6a6a" stroke-width="0.38"/><circle cx="190.0" cy="37.3" r="0.68" fill="#333"/>
<polygon points="212.9,37.6 211.2,38.5 209.5,37.6 209.5,35.6 211.2,34.6 212.9,35.6" fill="none" stroke="#6a6a6a" stroke-width="0.38"/><polyline points="213.2,37.6 214.8,38.8 216.5,38.3 217.5,39.6" fill="none" stroke="#6a6a6a" stroke-width="0.38"/><circle cx="212.9" cy="37.6" r="0.64" fill="#6a6a6a"/><circle cx="209.5" cy="37.6" r="0.64" fill="#6a6a6a"/><circle cx="211.2" cy="34.6" r="0.64" fill="#6a6a6a"/><circle cx="214.8" cy="38.8" r="0.64" fill="#6a6a6a"/><circle cx="216.5" cy="38.3" r="0.64" fill="#6a6a6a"/><circle cx="217.5" cy="39.6" r="0.64" fill="#6a6a6a"/><circle cx="208.2" cy="36.1" r="0.59" fill="#6a6a6a"/><line x1="209.3" y1="35.6" x2="208.2" y2="36.1" stroke="#6a6a6a" stroke-width="0.38"/><circle cx="216.5" cy="38.3" r="0.68" fill="#333"/>
<polygon points="180.9,55.6 179.2,56.5 177.5,55.6 177.5,53.6 179.2,52.6 180.9,53.6" fill="none" stroke="#6a6a6a" stroke-width="0.38"/><polyline points="181.2,55.6 182.8,56.8 184.5,56.3 185.5,57.6" fill="none" stroke="#6a6a6a" stroke-width="0.38"/><circle cx="180.9" cy="55.6" r="0.64" fill="#6a6a6a"/><circle cx="177.5" cy="55.6" r="0.64" fill="#6a6a6a"/><circle cx="179.2" cy="52.6" r="0.64" fill="#6a6a6a"/><circle cx="182.8" cy="56.8" r="0.64" fill="#6a6a6a"/><circle cx="184.5" cy="56.3" r="0.64" fill="#6a6a6a"/><circle cx="185.5" cy="57.6" r="0.64" fill="#6a6a6a"/><circle cx="176.2" cy="54.1" r="0.59" fill="#6a6a6a"/><line x1="177.3" y1="53.6" x2="176.2" y2="54.1" stroke="#6a6a6a" stroke-width="0.38"/><circle cx="184.5" cy="56.3" r="0.68" fill="#333"/>
<polygon points="220.4,46.1 218.7,47.0 217.0,46.1 217.0,44.1 218.7,43.1 220.4,44.1" fill="none" stroke="#6a6a6a" stroke-width="0.38"/><polyline points="220.7,46.1 222.3,47.3 224.0,46.8 225.0,48.1" fill="none" stroke="#6a6a6a" stroke-width="0.38"/><circle cx="220.4" cy="46.1" r="0.64" fill="#6a6a6a"/><circle cx="217.0" cy="46.1" r="0.64" fill="#6a6a6a"/><circle cx="218.7" cy="43.1" r="0.64" fill="#6a6a6a"/><circle cx="222.3" cy="47.3" r="0.64" fill="#6a6a6a"/><circle cx="224.0" cy="46.8" r="0.64" fill="#6a6a6a"/><circle cx="225.0" cy="48.1" r="0.64" fill="#6a6a6a"/><circle cx="215.7" cy="44.6" r="0.59" fill="#6a6a6a"/><line x1="216.8" y1="44.1" x2="215.7" y2="44.6" stroke="#6a6a6a" stroke-width="0.38"/><circle cx="224.0" cy="46.8" r="0.68" fill="#333"/>
<polygon points="220.4,65.1 218.7,66.0 217.0,65.1 217.0,63.1 218.7,62.1 220.4,63.1" fill="none" stroke="#6a6a6a" stroke-width="0.38"/><polyline points="220.7,65.1 222.3,66.3 224.0,65.8 225.0,67.1" fill="none" stroke="#6a6a6a" stroke-width="0.38"/><circle cx="220.4" cy="65.1" r="0.64" fill="#6a6a6a"/><circle cx="217.0" cy="65.1" r="0.64" fill="#6a6a6a"/><circle cx="218.7" cy="62.1" r="0.64" fill="#6a6a6a"/><circle cx="222.3" cy="66.3" r="0.64" fill="#6a6a6a"/><circle cx="224.0" cy="65.8" r="0.64" fill="#6a6a6a"/><circle cx="225.0" cy="67.1" r="0.64" fill="#6a6a6a"/><circle cx="215.7" cy="63.6" r="0.59" fill="#6a6a6a"/><line x1="216.8" y1="63.1" x2="215.7" y2="63.6" stroke="#6a6a6a" stroke-width="0.38"/><circle cx="224.0" cy="65.8" r="0.68" fill="#333"/>
<polygon points="181.9,68.1 180.2,69.0 178.5,68.1 178.5,66.1 180.2,65.1 181.9,66.1" fill="none" stroke="#6a6a6a" stroke-width="0.38"/><polyline points="182.2,68.1 183.8,69.3 185.5,68.8 186.5,70.1" fill="none" stroke="#6a6a6a" stroke-width="0.38"/><circle cx="181.9" cy="68.1" r="0.64" fill="#6a6a6a"/><circle cx="178.5" cy="68.1" r="0.64" fill="#6a6a6a"/><circle cx="180.2" cy="65.1" r="0.64" fill="#6a6a6a"/><circle cx="183.8" cy="69.3" r="0.64" fill="#6a6a6a"/><circle cx="185.5" cy="68.8" r="0.64" fill="#6a6a6a"/><circle cx="186.5" cy="70.1" r="0.64" fill="#6a6a6a"/><circle cx="177.2" cy="66.6" r="0.59" fill="#6a6a6a"/><line x1="178.3" y1="66.1" x2="177.2" y2="66.6" stroke="#6a6a6a" stroke-width="0.38"/><circle cx="185.5" cy="68.8" r="0.68" fill="#333"/>
<polygon points="194.4,77.6 192.7,78.5 191.0,77.6 191.0,75.6 192.7,74.6 194.4,75.6" fill="none" stroke="#6a6a6a" stroke-width="0.38"/><polyline points="194.7,77.6 196.3,78.8 198.0,78.3 199.0,79.6" fill="none" stroke="#6a6a6a" stroke-width="0.38"/><circle cx="194.4" cy="77.6" r="0.64" fill="#6a6a6a"/><circle cx="191.0" cy="77.6" r="0.64" fill="#6a6a6a"/><circle cx="192.7" cy="74.6" r="0.64" fill="#6a6a6a"/><circle cx="196.3" cy="78.8" r="0.64" fill="#6a6a6a"/><circle cx="198.0" cy="78.3" r="0.64" fill="#6a6a6a"/><circle cx="199.0" cy="79.6" r="0.64" fill="#6a6a6a"/><circle cx="189.7" cy="76.1" r="0.59" fill="#6a6a6a"/><line x1="190.8" y1="75.6" x2="189.7" y2="76.1" stroke="#6a6a6a" stroke-width="0.38"/><circle cx="198.0" cy="78.3" r="0.68" fill="#333"/>
<polygon points="221.9,74.1 220.2,75.0 218.5,74.1 218.5,72.1 220.2,71.1 221.9,72.1" fill="none" stroke="#6a6a6a" stroke-width="0.38"/><polyline points="222.2,74.1 223.8,75.3 225.5,74.8 226.5,76.1" fill="none" stroke="#6a6a6a" stroke-width="0.38"/><circle cx="221.9" cy="74.1" r="0.64" fill="#6a6a6a"/><circle cx="218.5" cy="74.1" r="0.64" fill="#6a6a6a"/><circle cx="220.2" cy="71.1" r="0.64" fill="#6a6a6a"/><circle cx="223.8" cy="75.3" r="0.64" fill="#6a6a6a"/><circle cx="225.5" cy="74.8" r="0.64" fill="#6a6a6a"/><circle cx="226.5" cy="76.1" r="0.64" fill="#6a6a6a"/><circle cx="217.2" cy="72.6" r="0.59" fill="#6a6a6a"/><line x1="218.3" y1="72.1" x2="217.2" y2="72.6" stroke="#6a6a6a" stroke-width="0.38"/><circle cx="225.5" cy="74.8" r="0.68" fill="#333"/>
<polygon points="206.4,79.6 204.7,80.5 203.0,79.6 203.0,77.6 204.7,76.6 206.4,77.6" fill="none" stroke="#6a6a6a" stroke-width="0.38"/><polyline points="206.7,79.6 208.3,80.8 210.0,80.3 211.0,81.6" fill="none" stroke="#6a6a6a" stroke-width="0.38"/><circle cx="206.4" cy="79.6" r="0.64" fill="#6a6a6a"/><circle cx="203.0" cy="79.6" r="0.64" fill="#6a6a6a"/><circle cx="204.7" cy="76.6" r="0.64" fill="#6a6a6a"/><circle cx="208.3" cy="80.8" r="0.64" fill="#6a6a6a"/><circle cx="210.0" cy="80.3" r="0.64" fill="#6a6a6a"/><circle cx="211.0" cy="81.6" r="0.64" fill="#6a6a6a"/><circle cx="201.7" cy="78.1" r="0.59" fill="#6a6a6a"/><line x1="202.8" y1="77.6" x2="201.7" y2="78.1" stroke="#6a6a6a" stroke-width="0.38"/><circle cx="210.0" cy="80.3" r="0.68" fill="#333"/>
<rect x="183.7" y="39.7" width="31.8" height="30.6" fill="#5ccdd4"/>
<path d="M183.7,39.7 L187.7,43.1 L191.6,39.7 L195.6,43.1 L199.6,39.7 L203.6,43.1 L207.6,39.7 L211.5,43.1 L215.5,39.7 L212.1,43.5 L215.5,47.4 L212.1,51.2 L215.5,55.0 L212.1,58.8 L215.5,62.6 L212.1,66.5 L215.5,70.3 L211.5,66.9 L207.6,70.3 L203.6,66.9 L199.6,70.3 L195.6,66.9 L191.6,70.3 L187.7,66.9 L183.7,70.3 L187.1,66.5 L183.7,62.6 L187.1,58.8 L183.7,55.0 L187.1,51.2 L183.7,47.4 L187.1,43.5Z" fill="#408cb2"/>
<path d="M187,43 L212,67 M212,43 L187,67" stroke="#62c4d4" stroke-width="2.0" opacity="0.6"/>
<path d="M186,50 L191,44 M186,60 L195,48 M188,68 L203,50 M196,69 L212,50 M205,69 L214,58 M200,44 L204,40" stroke="#7ad4dc" stroke-width="1.2" opacity="0.55"/>
<path d="M199.6,41 L199.6,69 M185,55 L214,55" stroke="#3a7aa4" stroke-width="1.1" opacity="0.8"/>
<ellipse cx="195.70000000000002" cy="50.9" rx="2.5" ry="2.1" fill="#e4fafa" transform="rotate(-35 195.70000000000002 50.9)"/><circle cx="194.8" cy="51.8" r="1.25" fill="#0a1c38"/>
<ellipse cx="205.20000000000002" cy="50.5" rx="2.5" ry="2.1" fill="#e4fafa" transform="rotate(-35 205.20000000000002 50.5)"/><circle cx="204.3" cy="51.4" r="1.25" fill="#0a1c38"/>
<ellipse cx="196.1" cy="59.6" rx="2.5" ry="2.1" fill="#e4fafa" transform="rotate(-35 196.1 59.6)"/><circle cx="195.2" cy="60.5" r="1.25" fill="#0a1c38"/>
<ellipse cx="205.6" cy="59.1" rx="2.5" ry="2.1" fill="#e4fafa" transform="rotate(-35 205.6 59.1)"/><circle cx="204.7" cy="60" r="1.25" fill="#0a1c38"/>
<polygon points="159.2,11.2 157.0,12.5 154.8,11.2 154.8,8.7 157.0,7.4 159.2,8.7" fill="none" stroke="#666" stroke-width="0.50"/><polyline points="159.6,11.3 161.6,12.8 163.8,12.1 165.2,13.9" fill="none" stroke="#666" stroke-width="0.50"/><circle cx="159.2" cy="11.2" r="0.83" fill="#666"/><circle cx="154.8" cy="11.2" r="0.83" fill="#666"/><circle cx="157.0" cy="7.4" r="0.83" fill="#666"/><circle cx="161.6" cy="12.8" r="0.83" fill="#666"/><circle cx="163.8" cy="12.1" r="0.83" fill="#666"/><circle cx="165.2" cy="13.9" r="0.83" fill="#666"/><circle cx="153.1" cy="9.3" r="0.77" fill="#666"/><line x1="154.5" y1="8.6" x2="153.1" y2="9.3" stroke="#666" stroke-width="0.50"/><circle cx="163.8" cy="12.1" r="0.88" fill="#333"/>
<line x1="164.5" y1="15" x2="179.6" y2="32.7" stroke="#333" stroke-width="0.6"/><circle cx="179.6" cy="32.7" r="0.9" fill="#111"/>
<text x="202" y="11.5" font-size="3.9" font-family="Liberation Sans" font-weight="bold" fill="#222" text-anchor="middle" stroke="#222" stroke-width="0.13">Surface passivation</text>
<text x="202" y="16" font-size="3.9" font-family="Liberation Sans" font-weight="bold" fill="#222" text-anchor="middle" stroke="#222" stroke-width="0.13">&amp;</text>
<text x="202" y="20.5" font-size="3.9" font-family="Liberation Sans" font-weight="bold" fill="#222" text-anchor="middle" stroke="#222" stroke-width="0.13">Ligand exchange</text>
<rect x="111" y="61" width="51" height="5.5" fill="#d8f6e6"/>
<path d="M110.3,39 L110.3,64.5 Q110.3,67 113,67 L160,67 Q162.6,67 162.6,64.5 L162.6,39" fill="none" stroke="#8f8fb0" stroke-width="0.9"/>
<line x1="111" y1="44.7" x2="162" y2="44.7" stroke="#c8c8d8" stroke-width="0.5"/>
<polygon points="119.2,50.6 117.4,51.6 115.6,50.6 115.6,48.5 117.4,47.5 119.2,48.5" fill="none" stroke="#6a6a6a" stroke-width="0.41"/><polyline points="119.4,50.6 121.2,51.9 123.0,51.3 124.0,52.8" fill="none" stroke="#6a6a6a" stroke-width="0.41"/><circle cx="119.2" cy="50.6" r="0.68" fill="#6a6a6a"/><circle cx="115.6" cy="50.6" r="0.68" fill="#6a6a6a"/><circle cx="117.4" cy="47.5" r="0.68" fill="#6a6a6a"/><circle cx="121.2" cy="51.9" r="0.68" fill="#6a6a6a"/><circle cx="123.0" cy="51.3" r="0.68" fill="#6a6a6a"/><circle cx="124.0" cy="52.8" r="0.68" fill="#6a6a6a"/><circle cx="114.1" cy="49.0" r="0.63" fill="#6a6a6a"/><line x1="115.3" y1="48.5" x2="114.1" y2="49.0" stroke="#6a6a6a" stroke-width="0.41"/><circle cx="123.0" cy="51.3" r="0.72" fill="#333"/>
<polygon points="119.6,47.9 118.4,48.6 117.2,47.9 117.2,46.5 118.4,45.8 119.6,46.5" fill="none" stroke="#8a8a8a" stroke-width="0.27"/><polyline points="119.8,47.9 120.9,48.8 122.1,48.4 122.9,49.4" fill="none" stroke="#8a8a8a" stroke-width="0.27"/><circle cx="119.6" cy="47.9" r="0.45" fill="#8a8a8a"/><circle cx="117.2" cy="47.9" r="0.45" fill="#8a8a8a"/><circle cx="118.4" cy="45.8" r="0.45" fill="#8a8a8a"/><circle cx="120.9" cy="48.8" r="0.45" fill="#8a8a8a"/><circle cx="122.1" cy="48.4" r="0.45" fill="#8a8a8a"/><circle cx="122.9" cy="49.4" r="0.45" fill="#8a8a8a"/><circle cx="116.3" cy="46.8" r="0.42" fill="#8a8a8a"/><line x1="117.0" y1="46.5" x2="116.3" y2="46.8" stroke="#8a8a8a" stroke-width="0.27"/><circle cx="122.1" cy="48.4" r="0.48" fill="#333"/>
<polygon points="128.2,50.6 126.4,51.6 124.6,50.6 124.6,48.5 126.4,47.5 128.2,48.5" fill="none" stroke="#6a6a6a" stroke-width="0.41"/><polyline points="128.4,50.6 130.2,51.9 132.0,51.3 133.0,52.8" fill="none" stroke="#6a6a6a" stroke-width="0.41"/><circle cx="128.2" cy="50.6" r="0.68" fill="#6a6a6a"/><circle cx="124.6" cy="50.6" r="0.68" fill="#6a6a6a"/><circle cx="126.4" cy="47.5" r="0.68" fill="#6a6a6a"/><circle cx="130.2" cy="51.9" r="0.68" fill="#6a6a6a"/><circle cx="132.0" cy="51.3" r="0.68" fill="#6a6a6a"/><circle cx="133.0" cy="52.8" r="0.68" fill="#6a6a6a"/><circle cx="123.1" cy="49.0" r="0.63" fill="#6a6a6a"/><line x1="124.3" y1="48.5" x2="123.1" y2="49.0" stroke="#6a6a6a" stroke-width="0.41"/><circle cx="132.0" cy="51.3" r="0.72" fill="#333"/>
<polygon points="128.6,47.9 127.4,48.6 126.2,47.9 126.2,46.5 127.4,45.8 128.6,46.5" fill="none" stroke="#8a8a8a" stroke-width="0.27"/><polyline points="128.8,47.9 129.9,48.8 131.1,48.4 131.9,49.4" fill="none" stroke="#8a8a8a" stroke-width="0.27"/><circle cx="128.6" cy="47.9" r="0.45" fill="#8a8a8a"/><circle cx="126.2" cy="47.9" r="0.45" fill="#8a8a8a"/><circle cx="127.4" cy="45.8" r="0.45" fill="#8a8a8a"/><circle cx="129.9" cy="48.8" r="0.45" fill="#8a8a8a"/><circle cx="131.1" cy="48.4" r="0.45" fill="#8a8a8a"/><circle cx="131.9" cy="49.4" r="0.45" fill="#8a8a8a"/><circle cx="125.3" cy="46.8" r="0.42" fill="#8a8a8a"/><line x1="126.0" y1="46.5" x2="125.3" y2="46.8" stroke="#8a8a8a" stroke-width="0.27"/><circle cx="131.1" cy="48.4" r="0.48" fill="#333"/>
<polygon points="137.2,50.6 135.4,51.6 133.6,50.6 133.6,48.5 135.4,47.5 137.2,48.5" fill="none" stroke="#6a6a6a" stroke-width="0.41"/><polyline points="137.4,50.6 139.2,51.9 141.0,51.3 142.0,52.8" fill="none" stroke="#6a6a6a" stroke-width="0.41"/><circle cx="137.2" cy="50.6" r="0.68" fill="#6a6a6a"/><circle cx="133.6" cy="50.6" r="0.68" fill="#6a6a6a"/><circle cx="135.4" cy="47.5" r="0.68" fill="#6a6a6a"/><circle cx="139.2" cy="51.9" r="0.68" fill="#6a6a6a"/><circle cx="141.0" cy="51.3" r="0.68" fill="#6a6a6a"/><circle cx="142.0" cy="52.8" r="0.68" fill="#6a6a6a"/><circle cx="132.1" cy="49.0" r="0.63" fill="#6a6a6a"/><line x1="133.3" y1="48.5" x2="132.1" y2="49.0" stroke="#6a6a6a" stroke-width="0.41"/><circle cx="141.0" cy="51.3" r="0.72" fill="#333"/>
<polygon points="137.6,47.9 136.4,48.6 135.2,47.9 135.2,46.5 136.4,45.8 137.6,46.5" fill="none" stroke="#8a8a8a" stroke-width="0.27"/><polyline points="137.8,47.9 138.9,48.8 140.1,48.4 140.9,49.4" fill="none" stroke="#8a8a8a" stroke-width="0.27"/><circle cx="137.6" cy="47.9" r="0.45" fill="#8a8a8a"/><circle cx="135.2" cy="47.9" r="0.45" fill="#8a8a8a"/><circle cx="136.4" cy="45.8" r="0.45" fill="#8a8a8a"/><circle cx="138.9" cy="48.8" r="0.45" fill="#8a8a8a"/><circle cx="140.1" cy="48.4" r="0.45" fill="#8a8a8a"/><circle cx="140.9" cy="49.4" r="0.45" fill="#8a8a8a"/><circle cx="134.3" cy="46.8" r="0.42" fill="#8a8a8a"/><line x1="135.0" y1="46.5" x2="134.3" y2="46.8" stroke="#8a8a8a" stroke-width="0.27"/><circle cx="140.1" cy="48.4" r="0.48" fill="#333"/>
<polygon points="146.2,50.6 144.4,51.6 142.6,50.6 142.6,48.5 144.4,47.5 146.2,48.5" fill="none" stroke="#6a6a6a" stroke-width="0.41"/><polyline points="146.4,50.6 148.2,51.9 150.0,51.3 151.0,52.8" fill="none" stroke="#6a6a6a" stroke-width="0.41"/><circle cx="146.2" cy="50.6" r="0.68" fill="#6a6a6a"/><circle cx="142.6" cy="50.6" r="0.68" fill="#6a6a6a"/><circle cx="144.4" cy="47.5" r="0.68" fill="#6a6a6a"/><circle cx="148.2" cy="51.9" r="0.68" fill="#6a6a6a"/><circle cx="150.0" cy="51.3" r="0.68" fill="#6a6a6a"/><circle cx="151.0" cy="52.8" r="0.68" fill="#6a6a6a"/><circle cx="141.1" cy="49.0" r="0.63" fill="#6a6a6a"/><line x1="142.3" y1="48.5" x2="141.1" y2="49.0" stroke="#6a6a6a" stroke-width="0.41"/><circle cx="150.0" cy="51.3" r="0.72" fill="#333"/>
<polygon points="146.6,47.9 145.4,48.6 144.2,47.9 144.2,46.5 145.4,45.8 146.6,46.5" fill="none" stroke="#8a8a8a" stroke-width="0.27"/><polyline points="146.8,47.9 147.9,48.8 149.1,48.4 149.9,49.4" fill="none" stroke="#8a8a8a" stroke-width="0.27"/><circle cx="146.6" cy="47.9" r="0.45" fill="#8a8a8a"/><circle cx="144.2" cy="47.9" r="0.45" fill="#8a8a8a"/><circle cx="145.4" cy="45.8" r="0.45" fill="#8a8a8a"/><circle cx="147.9" cy="48.8" r="0.45" fill="#8a8a8a"/><circle cx="149.1" cy="48.4" r="0.45" fill="#8a8a8a"/><circle cx="149.9" cy="49.4" r="0.45" fill="#8a8a8a"/><circle cx="143.3" cy="46.8" r="0.42" fill="#8a8a8a"/><line x1="144.0" y1="46.5" x2="143.3" y2="46.8" stroke="#8a8a8a" stroke-width="0.27"/><circle cx="149.1" cy="48.4" r="0.48" fill="#333"/>
<polygon points="155.2,50.6 153.4,51.6 151.6,50.6 151.6,48.5 153.4,47.5 155.2,48.5" fill="none" stroke="#6a6a6a" stroke-width="0.41"/><polyline points="155.4,50.6 157.2,51.9 159.0,51.3 160.0,52.8" fill="none" stroke="#6a6a6a" stroke-width="0.41"/><circle cx="155.2" cy="50.6" r="0.68" fill="#6a6a6a"/><circle cx="151.6" cy="50.6" r="0.68" fill="#6a6a6a"/><circle cx="153.4" cy="47.5" r="0.68" fill="#6a6a6a"/><circle cx="157.2" cy="51.9" r="0.68" fill="#6a6a6a"/><circle cx="159.0" cy="51.3" r="0.68" fill="#6a6a6a"/><circle cx="160.0" cy="52.8" r="0.68" fill="#6a6a6a"/><circle cx="150.1" cy="49.0" r="0.63" fill="#6a6a6a"/><line x1="151.3" y1="48.5" x2="150.1" y2="49.0" stroke="#6a6a6a" stroke-width="0.41"/><circle cx="159.0" cy="51.3" r="0.72" fill="#333"/>
<polygon points="155.6,47.9 154.4,48.6 153.2,47.9 153.2,46.5 154.4,45.8 155.6,46.5" fill="none" stroke="#8a8a8a" stroke-width="0.27"/><polyline points="155.8,47.9 156.9,48.8 158.1,48.4 158.9,49.4" fill="none" stroke="#8a8a8a" stroke-width="0.27"/><circle cx="155.6" cy="47.9" r="0.45" fill="#8a8a8a"/><circle cx="153.2" cy="47.9" r="0.45" fill="#8a8a8a"/><circle cx="154.4" cy="45.8" r="0.45" fill="#8a8a8a"/><circle cx="156.9" cy="48.8" r="0.45" fill="#8a8a8a"/><circle cx="158.1" cy="48.4" r="0.45" fill="#8a8a8a"/><circle cx="158.9" cy="49.4" r="0.45" fill="#8a8a8a"/><circle cx="152.3" cy="46.8" r="0.42" fill="#8a8a8a"/><line x1="153.0" y1="46.5" x2="152.3" y2="46.8" stroke="#8a8a8a" stroke-width="0.27"/><circle cx="158.1" cy="48.4" r="0.48" fill="#333"/>
<line x1="111" y1="58.4" x2="162" y2="58.4" stroke="#e06080" stroke-width="0.5" stroke-dasharray="1.5,1"/>
<text x="136" y="56.8" font-size="3.9" font-family="Liberation Sans" font-weight="bold" fill="#6a2a2a" text-anchor="middle" stroke="#6a2a2a" stroke-width="0.13">Dissolution equilibrium</text>
<path d="M118,63 L118,59.5" stroke="#e08030" stroke-width="1.6"/><path d="M116.7,60.5 L118,58.8 L119.3,60.5" fill="#50b050"/>
<path d="M129.5,63 L129.5,59.5" stroke="#e08030" stroke-width="1.6"/><path d="M128.2,60.5 L129.5,58.8 L130.8,60.5" fill="#50b050"/>
<path d="M140.5,63 L140.5,59.5" stroke="#e08030" stroke-width="1.6"/><path d="M139.2,60.5 L140.5,58.8 L141.8,60.5" fill="#50b050"/>
<path d="M151.5,63 L151.5,59.5" stroke="#e08030" stroke-width="1.6"/><path d="M150.2,60.5 L151.5,58.8 L152.8,60.5" fill="#50b050"/>
<text x="135" y="66.3" font-size="3.8" font-family="Liberation Sans" font-weight="bold" fill="#2a2a3a" text-anchor="middle" stroke="#2a2a3a" stroke-width="0.13">Undissolved salt</text>
<defs><linearGradient id="ag" x1="0" x2="1"><stop offset="0" stop-color="#3636a0"/><stop offset="1" stop-color="#3a58b8"/></linearGradient></defs>
<path d="M103.7,69.6 L165.5,69.6 L165.5,68.2 L170.2,71.2 L165.5,74.2 L165.5,72.8 L103.7,72.8Z" fill="url(#ag)"/>
<text x="107" y="80.2" font-size="4.5" font-family="Liberation Sans" font-weight="bold" fill="#1a1a4a" text-anchor="start" stroke="#1a1a4a" stroke-width="0.13">Surface treatment process</text>
<text x="64" y="96.3" font-size="4.7" font-family="Liberation Sans" fill="#c07830" text-anchor="middle" stroke="#c07830" stroke-width="0.13">Initial QDs</text>
<text x="94" y="102.5" font-size="4.6" font-family="Liberation Sans" fill="#78a038" text-anchor="end" stroke="#78a038" stroke-width="0.13">Colloid: PL 508 nm&#160;&#160;&#160;QY 51%</text>
<text x="94" y="108.5" font-size="4.55" font-family="Liberation Sans" fill="#78a038" text-anchor="end" stroke="#78a038" stroke-width="0.13">Film: PL 510 nm&#160;&#160;&#160;QY 30%</text>
<text x="203.5" y="95.6" font-size="4.4" font-family="Liberation Sans" fill="#3050c0" text-anchor="middle" stroke="#3050c0" stroke-width="0.13">Treated QDs</text>
<text x="232" y="102" font-size="4.55" font-family="Liberation Sans" fill="#3050c0" text-anchor="end" stroke="#3050c0" stroke-width="0.13">Colloid: PL 456 nm&#160;&#160;&#160;QY 80%</text>
<text x="232" y="108" font-size="4.55" font-family="Liberation Sans" fill="#3050c0" text-anchor="end" stroke="#3050c0" stroke-width="0.13">Film: PL 461 nm&#160;&#160;&#160;QY 52%</text>
<polyline points="65.00,122.00 65.51,122.83 66.02,123.15 66.53,122.77 67.04,121.93 67.55,121.13 68.06,120.86 68.57,121.28 69.08,122.14 69.59,122.92 70.10,123.14 70.61,122.66 71.12,121.78 71.63,121.04 72.14,120.88 72.65,121.40 73.16,122.29 73.67,123.00 74.18,123.10 74.69,122.54 75.20,121.64 75.71,120.97 76.22,120.92 76.73,121.53 77.24,122.42 77.75,123.06 78.26,123.06 78.77,122.41 79.28,121.51 79.79,120.91 80.30,120.98 80.81,121.66 81.32,122.55 81.83,123.11 82.34,122.99 82.85,122.27 83.36,121.38 83.87,120.87 84.38,121.05 84.89,121.80 85.40,122.68" fill="none" stroke="#5a5a8a" stroke-width="0.85"/>
<text x="87.6" y="124" font-size="4.6" font-family="Liberation Serif" font-weight="bold" fill="#222" text-anchor="start" stroke="#222" stroke-width="0.13">Long Ligand</text>
<polygon points="128.9,123.1 127.2,124.0 125.5,123.1 125.5,121.1 127.2,120.1 128.9,121.1" fill="none" stroke="#666" stroke-width="0.38"/><polyline points="129.2,123.1 130.8,124.3 132.5,123.8 133.5,125.1" fill="none" stroke="#666" stroke-width="0.38"/><circle cx="128.9" cy="123.1" r="0.64" fill="#666"/><circle cx="125.5" cy="123.1" r="0.64" fill="#666"/><circle cx="127.2" cy="120.1" r="0.64" fill="#666"/><circle cx="130.8" cy="124.3" r="0.64" fill="#666"/><circle cx="132.5" cy="123.8" r="0.64" fill="#666"/><circle cx="133.5" cy="125.1" r="0.64" fill="#666"/><circle cx="124.2" cy="121.6" r="0.59" fill="#666"/><line x1="125.3" y1="121.1" x2="124.2" y2="121.6" stroke="#666" stroke-width="0.38"/><circle cx="132.5" cy="123.8" r="0.68" fill="#333"/>
<text x="135.8" y="124" font-size="4.6" font-family="Liberation Serif" font-weight="bold" fill="#222" text-anchor="start" stroke="#222" stroke-width="0.13">2-BACl</text>
<text x="3.5" y="21" font-size="11" font-family="Liberation Serif" font-weight="bold" fill="#111" text-anchor="start" >(a)</text>
<polyline points="304.50,128.50 305.12,126.07 301.48,125.53 303.52,122.47 299.88,121.93 301.92,118.87 298.28,118.33 300.32,115.27 296.68,114.73 297.30,112.30" fill="none" stroke="#858585" stroke-width="0.75" stroke-linejoin="miter"/>
<polyline points="310.00,128.50 311.45,126.52 308.25,124.78 311.25,122.72 308.05,120.98 311.05,118.92 307.85,117.18 310.85,115.12 307.65,113.38 310.65,111.32 309.00,109.50" fill="none" stroke="#858585" stroke-width="0.75" stroke-linejoin="miter"/>
<polyline points="319.50,131.00 321.82,131.78 322.51,128.22 325.38,130.45 326.07,126.88 328.93,129.12 329.62,125.55 332.49,127.78 333.18,124.22 335.50,125.00" fill="none" stroke="#858585" stroke-width="0.75" stroke-linejoin="miter"/>
<polyline points="319.50,136.80 321.79,138.02 323.38,134.65 325.90,137.40 327.49,134.02 330.01,136.78 331.60,133.40 334.12,136.15 335.71,132.78 338.00,134.00" fill="none" stroke="#858585" stroke-width="0.75" stroke-linejoin="miter"/>
<polyline points="304.00,136.00 301.88,134.70 300.32,138.01 298.00,135.17 296.44,138.48 294.13,135.64 292.57,138.96 290.26,136.12 288.70,139.43 286.38,136.59 284.82,139.90 282.70,138.60" fill="none" stroke="#858585" stroke-width="0.75" stroke-linejoin="miter"/>
<polyline points="304.00,139.50 301.47,139.15 301.25,142.85 297.95,141.15 297.73,144.85 294.43,143.15 294.21,146.85 290.91,145.15 290.69,148.85 287.39,147.15 286.40,149.50" fill="none" stroke="#858585" stroke-width="0.75" stroke-linejoin="miter"/>
<polyline points="310.00,143.50 308.73,145.66 312.08,147.19 309.27,149.56 312.62,151.09 309.81,153.46 313.16,154.99 310.35,157.36 313.70,158.89 310.89,161.26 312.70,163.00" fill="none" stroke="#858585" stroke-width="0.75" stroke-linejoin="miter"/>
<polyline points="317.00,143.50 317.03,146.04 320.71,145.70 319.52,149.19 323.19,148.85 322.01,152.35 325.68,152.01 324.49,155.50 328.17,155.16 328.20,157.70" fill="none" stroke="#858585" stroke-width="0.75" stroke-linejoin="miter"/>
<polyline points="364.00,129.50 365.17,127.32 361.78,125.98 364.47,123.52 361.08,122.18 363.77,119.72 360.38,118.38 363.07,115.92 359.68,114.58 362.37,112.12 360.50,110.50" fill="none" stroke="#858585" stroke-width="0.75" stroke-linejoin="miter"/>
<polyline points="368.60,129.50 370.70,128.21 368.42,125.36 371.98,124.59 369.70,121.74 373.26,120.97 370.98,118.12 374.54,117.35 372.26,114.50 375.82,113.73 375.00,111.40" fill="none" stroke="#858585" stroke-width="0.75" stroke-linejoin="miter"/>
<polyline points="360.00,134.00 358.46,131.97 355.69,134.41 354.56,130.89 351.79,133.33 350.66,129.81 347.89,132.25 346.76,128.73 343.99,131.17 342.86,127.65 340.50,128.60" fill="none" stroke="#858585" stroke-width="0.75" stroke-linejoin="miter"/>
<polyline points="360.00,137.70 357.68,136.79 356.73,140.33 353.95,137.94 353.00,141.47 350.23,139.08 349.27,142.62 346.50,140.23 345.55,143.76 342.77,141.37 341.82,144.91 339.50,144.00" fill="none" stroke="#858585" stroke-width="0.75" stroke-linejoin="miter"/>
<polyline points="372.50,134.00 374.63,135.45 376.52,132.25 378.73,135.25 380.62,132.05 382.83,135.05 384.72,131.85 386.93,134.85 388.82,131.65 391.03,134.65 393.00,133.00" fill="none" stroke="#858585" stroke-width="0.75" stroke-linejoin="miter"/>
<polyline points="372.50,138.60 373.84,140.73 376.75,138.49 377.56,142.08 380.48,139.83 381.29,143.42 384.21,141.18 385.02,144.77 387.94,142.52 388.75,146.11 391.66,143.87 393.00,146.00" fill="none" stroke="#858585" stroke-width="0.75" stroke-linejoin="miter"/>
<polyline points="364.00,143.50 362.12,145.18 364.83,147.67 361.42,149.08 364.13,151.57 360.72,152.98 363.43,155.47 360.02,156.88 362.73,159.37 359.32,160.78 360.50,163.00" fill="none" stroke="#858585" stroke-width="0.75" stroke-linejoin="miter"/>
<polyline points="368.60,143.50 368.13,145.98 371.80,146.35 369.95,149.54 373.62,149.90 371.78,153.10 375.45,153.46 373.60,156.65 377.27,157.02 376.80,159.50" fill="none" stroke="#858585" stroke-width="0.75" stroke-linejoin="miter"/>
<polyline points="338.60,169.00 339.59,166.62 336.08,165.38 338.57,162.62 335.05,161.38 337.55,158.62 334.03,157.38 336.52,154.62 333.01,153.38 334.00,151.00" fill="none" stroke="#858585" stroke-width="0.75" stroke-linejoin="miter"/>
<polyline points="342.30,169.00 344.30,167.38 341.80,164.62 345.30,163.38 342.80,160.62 346.30,159.38 343.80,156.62 347.30,155.38 344.80,152.62 346.80,151.00" fill="none" stroke="#858585" stroke-width="0.75" stroke-linejoin="miter"/>
<polyline points="334.50,172.70 332.90,170.76 330.29,173.36 329.02,169.90 326.42,172.50 325.15,169.05 322.55,171.65 321.28,168.20 318.68,170.80 317.41,167.34 314.80,169.94 313.20,168.00" fill="none" stroke="#858585" stroke-width="0.75" stroke-linejoin="miter"/>
<polyline points="334.50,177.30 332.18,176.29 331.01,179.78 328.31,177.27 327.14,180.77 324.44,178.25 323.26,181.75 320.56,179.23 319.39,182.73 316.69,180.22 315.52,183.71 313.20,182.70" fill="none" stroke="#858585" stroke-width="0.75" stroke-linejoin="miter"/>
<polyline points="345.50,172.70 347.44,174.25 349.37,171.15 351.31,174.25 353.25,171.15 355.18,174.25 357.12,171.15 359.05,174.25 360.99,171.15 362.93,174.25 364.86,171.15 366.80,172.70" fill="none" stroke="#858585" stroke-width="0.75" stroke-linejoin="miter"/>
<polyline points="345.50,177.30 347.00,179.36 349.81,176.96 350.87,180.50 353.69,178.10 354.74,181.65 357.56,179.25 358.61,182.80 361.43,180.40 362.49,183.94 365.30,181.54 366.80,183.60" fill="none" stroke="#858585" stroke-width="0.75" stroke-linejoin="miter"/>
<polyline points="337.70,183.50 335.81,185.13 338.48,187.63 335.07,188.97 337.74,191.47 334.33,192.81 337.00,195.31 333.59,196.65 336.26,199.15 332.85,200.49 334.00,202.70" fill="none" stroke="#858585" stroke-width="0.75" stroke-linejoin="miter"/>
<polyline points="342.30,183.50 341.83,185.97 345.50,186.28 343.65,189.47 347.32,189.78 345.47,192.97 349.14,193.28 347.29,196.47 350.96,196.78 349.11,199.97 351.40,201.00" fill="none" stroke="#858585" stroke-width="0.75" stroke-linejoin="miter"/>
<rect x="302.79999999999995" y="128.1" width="16.2" height="16.2" fill="#fbd3ea"/><g transform="rotate(-6 310.9 136.2)"><rect x="304.4" y="129.7" width="13" height="13" rx="1.3" fill="#7c4a1e"/><rect x="304.4" y="132.0" width="9.4" height="10.7" rx="1.0" fill="#a8301e"/></g>
<rect x="358.59999999999997" y="129.0" width="15.6" height="15.6" fill="#fbd3ea"/><g transform="rotate(2 366.4 136.8)"><rect x="360.4" y="130.8" width="12" height="12" rx="1.2" fill="#7c4a1e"/><rect x="360.4" y="133.0" width="8.6" height="9.8" rx="1.0" fill="#a8301e"/></g>
<rect x="329" y="167" width="22" height="19" fill="#feeff6"/>
<rect x="333.2" y="169.5" width="13.6" height="13.6" fill="#fbd3ea"/><g transform="rotate(0 340 176.3)"><rect x="334.0" y="170.3" width="12" height="12" rx="1.7" fill="#7a3a18"/><rect x="335.2" y="171.5" width="9.6" height="9.6" rx="1.2" fill="#c42420"/></g>
<text x="399.5" y="164.8" font-size="4.0" font-family="Liberation Sans" fill="#333" text-anchor="middle" >MeOAc</text>
<line x1="391.8" y1="166.6" x2="407.3" y2="166.6" stroke="#444" stroke-width="0.5"/>
<text x="399.3" y="172.3" font-size="4.0" font-family="Liberation Sans" fill="#333" text-anchor="middle" >Ligand removing</text>
<rect x="425" y="143.3" width="31" height="32.7" fill="#fdeaf4"/>
<polyline points="435.00,148.50 432.81,146.69 430.36,149.98 428.25,146.47 425.81,149.75 423.69,146.25 421.25,149.53 419.14,146.02 416.69,149.31 414.50,147.50" fill="none" stroke="#858585" stroke-width="0.75" stroke-linejoin="miter"/>
<polyline points="446.30,147.00 448.98,146.61 447.91,142.76 451.83,143.52 450.76,139.66 454.69,140.43 453.61,136.57 457.54,137.34 456.47,133.48 460.39,134.24 459.32,130.39 462.00,130.00" fill="none" stroke="#858585" stroke-width="0.75" stroke-linejoin="miter"/>
<polyline points="431.00,169.50 428.29,170.10 429.51,173.96 425.49,173.48 426.71,177.34 422.69,176.85 423.91,180.71 419.89,180.23 419.80,183.00" fill="none" stroke="#858585" stroke-width="0.75" stroke-linejoin="miter"/>
<polyline points="452.70,164.50 454.05,166.92 457.38,164.63 458.07,168.62 461.40,166.33 462.09,170.32 465.42,168.03 466.11,172.02 469.44,169.73 470.13,173.72 472.80,173.00" fill="none" stroke="#858585" stroke-width="0.75" stroke-linejoin="miter"/>
<g transform="rotate(-12 435.2 156)"><rect x="429.4" y="150.2" width="11.6" height="11.6" rx="1.6" fill="#7a3a18"/><rect x="430.6" y="151.4" width="9.2" height="9.2" rx="1.2" fill="#e42028"/></g>
<g transform="rotate(4 449.2 154.5)"><rect x="443.3" y="148.6" width="11.8" height="11.8" rx="1.7" fill="#7a3a18"/><rect x="444.5" y="149.8" width="9.4" height="9.4" rx="1.2" fill="#c42420"/></g>
<g transform="rotate(0 444.7 167.6)"><rect x="438.95" y="161.85" width="11.5" height="11.5" rx="1.6" fill="#7a3a18"/><rect x="440.1" y="163.0" width="9.1" height="9.1" rx="1.2" fill="#c42420"/></g>
<circle cx="451.3" cy="152" r="1.5" fill="#fff"/><circle cx="428" cy="162.5" r="0.6" fill="#fff"/><circle cx="438" cy="174.5" r="0.6" fill="#fff"/>
<text x="490.8" y="164.3" font-size="4.0" font-family="Liberation Sans" fill="#333" text-anchor="middle" >CsX</text>
<line x1="479" y1="166.2" x2="502.5" y2="166.2" stroke="#444" stroke-width="0.5"/>
<text x="490.2" y="171.8" font-size="4.0" font-family="Liberation Sans" fill="#333" text-anchor="middle" >treatment</text>
<rect x="511" y="143" width="14" height="40" fill="#eaf8fa"/>
<rect x="511.7" y="144" width="25" height="31" fill="#fdeaf4"/>
<rect x="512.5" y="151.7" width="9.5" height="11.6" rx="1.2" fill="#7a3a18"/><rect x="525.8" y="150.8" width="10" height="12.5" rx="1.2" fill="#7a3a18"/><rect x="519" y="156.7" width="11.8" height="15.8" rx="1.2" fill="#7a3a18"/>
<rect x="513.7" y="153" width="7.2" height="9" fill="#d42424"/><rect x="527" y="152" width="7.6" height="10" fill="#d42424"/><rect x="520.2" y="158" width="9.4" height="13" fill="#d42424"/>
<rect x="519" y="153" width="11" height="9" fill="#d82626"/>
<circle cx="533.3" cy="154.2" r="1.2" fill="#fff"/><circle cx="535.5" cy="165" r="0.6" fill="#e8a0b0"/>
<path d="M513.3,145 Q518,141.5 522.8,147.5" fill="none" stroke="#5a68c0" stroke-width="1.2"/><path d="M513,178.5 Q518.5,180.5 522.5,175" fill="none" stroke="#5a68c0" stroke-width="1.2"/>
<circle cx="524.7" cy="143" r="1.1" fill="#6a8a5a"/><circle cx="512.5" cy="150.8" r="1" fill="#6a8a5a"/><circle cx="518.3" cy="175.5" r="1" fill="#6a8a5a"/>
<rect x="375.5" y="190.8" width="15.5" height="14.5" fill="#fbd3ea"/>
<g transform="rotate(0 383.2 198.2)"><rect x="377.2" y="192.2" width="12" height="12" rx="1.2" fill="#7c4a1e"/><rect x="377.2" y="194.4" width="8.6" height="9.8" rx="1.0" fill="#a8301e"/></g>
<text x="391" y="200.5" font-size="4.1" font-family="Liberation Sans" fill="#333" text-anchor="start" >= CsPbI<tspan font-size="2.6" dy="0.9">3</tspan><tspan dy="-0.9"> QD</tspan></text>
<polyline points="417.00,196.50 419.09,197.80 421.18,195.20 423.27,197.80 425.36,195.20 427.45,197.80 429.55,195.20 431.64,197.80 433.73,195.20 435.82,197.80 437.91,195.20 440.00,196.50" fill="none" stroke="#777" stroke-width="0.55" stroke-linejoin="miter"/>
<polyline points="419.00,202.00 421.10,203.30 423.20,200.70 425.30,203.30 427.40,200.70 429.50,203.30 431.60,200.70 433.70,203.30 435.80,200.70 437.90,203.30 440.00,202.00" fill="none" stroke="#777" stroke-width="0.55" stroke-linejoin="miter"/>
<text x="417" y="203" font-size="2.8" font-family="Liberation Sans" fill="#555" text-anchor="start" >+</text>
<text x="442" y="196.5" font-size="4.1" font-family="Liberation Sans" fill="#333" text-anchor="start" >= oleate</text>
<text x="442" y="202.2" font-size="4.1" font-family="Liberation Sans" fill="#333" text-anchor="start" >= oleylammonium</text>
<circle cx="481.3" cy="199.3" r="1.2" fill="#6a8a5a"/>
<text x="483.5" y="200.9" font-size="4.3" font-family="Liberation Sans" fill="#333" text-anchor="start" >= Cs</text>
<circle cx="499.5" cy="199.3" r="1.2" fill="#fff" stroke="#ccc" stroke-width="0.4"/>
<text x="501.8" y="200.9" font-size="4.3" font-family="Liberation Sans" fill="#333" text-anchor="start" >= Cs vacancy</text>
<rect x="322.1" y="230.5" width="9.6" height="9.6" fill="#f8d3e7"/><rect x="342.3" y="230.5" width="9.6" height="9.6" fill="#f8d3e7"/><rect x="332.2" y="220.3" width="9.6" height="9.6" fill="#f8d3e7"/><rect x="332.2" y="240.7" width="9.6" height="9.6" fill="#f8d3e7"/><rect x="322.1" y="250.8" width="9.6" height="9.6" fill="#f8d3e7"/><rect x="342.3" y="250.8" width="9.6" height="9.6" fill="#f8d3e7"/><rect x="332.2" y="240.7" width="9.6" height="9.6" fill="#f8d3e7"/><rect x="332.2" y="260.9" width="9.6" height="9.6" fill="#f8d3e7"/><rect x="322.1" y="271.1" width="9.6" height="9.6" fill="#f8d3e7"/><rect x="342.3" y="271.1" width="9.6" height="9.6" fill="#f8d3e7"/><rect x="332.2" y="261.0" width="9.6" height="9.6" fill="#f8d3e7"/><rect x="332.2" y="281.2" width="9.6" height="9.6" fill="#f8d3e7"/><rect x="342.4" y="230.5" width="9.6" height="9.6" fill="#f8d3e7"/><rect x="362.6" y="230.5" width="9.6" height="9.6" fill="#f8d3e7"/><rect x="352.5" y="220.3" width="9.6" height="9.6" fill="#f8d3e7"/><rect x="352.5" y="240.7" width="9.6" height="9.6" fill="#f8d3e7"/><rect x="342.4" y="250.8" width="9.6" height="9.6" fill="#f8d3e7"/><rect x="362.6" y="250.8" width="9.6" height="9.6" fill="#f8d3e7"/><rect x="352.5" y="240.7" width="9.6" height="9.6" fill="#f8d3e7"/><rect x="352.5" y="260.9" width="9.6" height="9.6" fill="#f8d3e7"/><rect x="342.4" y="271.1" width="9.6" height="9.6" fill="#f8d3e7"/><rect x="362.6" y="271.1" width="9.6" height="9.6" fill="#f8d3e7"/><rect x="352.5" y="261.0" width="9.6" height="9.6" fill="#f8d3e7"/><rect x="352.5" y="281.2" width="9.6" height="9.6" fill="#f8d3e7"/><rect x="362.7" y="230.5" width="9.6" height="9.6" fill="#f8d3e7"/><rect x="382.9" y="230.5" width="9.6" height="9.6" fill="#f8d3e7"/><rect x="372.8" y="220.3" width="9.6" height="9.6" fill="#f8d3e7"/><rect x="372.8" y="240.7" width="9.6" height="9.6" fill="#f8d3e7"/><rect x="362.7" y="250.8" width="9.6" height="9.6" fill="#f8d3e7"/><rect x="382.9" y="250.8" width="9.6" height="9.6" fill="#f8d3e7"/><rect x="372.8" y="240.7" width="9.6" height="9.6" fill="#f8d3e7"/><rect x="372.8" y="260.9" width="9.6" height="9.6" fill="#f8d3e7"/><rect x="362.7" y="271.1" width="9.6" height="9.6" fill="#f8d3e7"/><rect x="382.9" y="271.1" width="9.6" height="9.6" fill="#f8d3e7"/><rect x="372.8" y="261.0" width="9.6" height="9.6" fill="#f8d3e7"/><rect x="372.8" y="281.2" width="9.6" height="9.6" fill="#f8d3e7"/><path d="M337.0,226.15 L346.15,235.3 L337.0,244.45000000000002 L327.85,235.3Z" fill="#e0dcf2"/><path d="M337.0,246.45000000000002 L346.15,255.60000000000002 L337.0,264.75 L327.85,255.60000000000002Z" fill="#e0dcf2"/><path d="M337.0,266.75000000000006 L346.15,275.90000000000003 L337.0,285.05 L327.85,275.90000000000003Z" fill="#e0dcf2"/><path d="M357.3,226.15 L366.45,235.3 L357.3,244.45000000000002 L348.15000000000003,235.3Z" fill="#e0dcf2"/><path d="M357.3,246.45000000000002 L366.45,255.60000000000002 L357.3,264.75 L348.15000000000003,255.60000000000002Z" fill="#e0dcf2"/><path d="M357.3,266.75000000000006 L366.45,275.90000000000003 L357.3,285.05 L348.15000000000003,275.90000000000003Z" fill="#e0dcf2"/><path d="M377.6,226.15 L386.75,235.3 L377.6,244.45000000000002 L368.45000000000005,235.3Z" fill="#e0dcf2"/><path d="M377.6,246.45000000000002 L386.75,255.60000000000002 L377.6,264.75 L368.45000000000005,255.60000000000002Z" fill="#e0dcf2"/><path d="M377.6,266.75000000000006 L386.75,275.90000000000003 L377.6,285.05 L368.45000000000005,275.90000000000003Z" fill="#e0dcf2"/><rect x="330.8" y="229.1" width="12.4" height="12.4" rx="2" fill="#d6dbee"/><rect x="330.8" y="249.4" width="12.4" height="12.4" rx="2" fill="#d6dbee"/><rect x="330.8" y="269.7" width="12.4" height="12.4" rx="2" fill="#d6dbee"/><rect x="351.1" y="229.1" width="12.4" height="12.4" rx="2" fill="#d6dbee"/><rect x="351.1" y="249.4" width="12.4" height="12.4" rx="2" fill="#d6dbee"/><rect x="351.1" y="269.7" width="12.4" height="12.4" rx="2" fill="#d6dbee"/><rect x="371.4" y="229.1" width="12.4" height="12.4" rx="2" fill="#d6dbee"/><rect x="371.4" y="249.4" width="12.4" height="12.4" rx="2" fill="#d6dbee"/><rect x="371.4" y="269.7" width="12.4" height="12.4" rx="2" fill="#d6dbee"/><circle cx="337.0" cy="235.3" r="2.8" fill="#9090cc"/><circle cx="337.0" cy="235.3" r="1.8" fill="#c4c6ec" stroke="#5c5cae" stroke-width="0.55"/><circle cx="337.0" cy="255.6" r="2.8" fill="#9090cc"/><circle cx="337.0" cy="255.6" r="1.8" fill="#c4c6ec" stroke="#5c5cae" stroke-width="0.55"/><circle cx="337.0" cy="275.9" r="2.8" fill="#9090cc"/><circle cx="337.0" cy="275.9" r="1.8" fill="#c4c6ec" stroke="#5c5cae" stroke-width="0.55"/><circle cx="357.3" cy="235.3" r="2.8" fill="#9090cc"/><circle cx="357.3" cy="235.3" r="1.8" fill="#c4c6ec" stroke="#5c5cae" stroke-width="0.55"/><circle cx="357.3" cy="255.6" r="2.8" fill="#9090cc"/><circle cx="357.3" cy="255.6" r="1.8" fill="#c4c6ec" stroke="#5c5cae" stroke-width="0.55"/><circle cx="357.3" cy="275.9" r="2.8" fill="#9090cc"/><circle cx="357.3" cy="275.9" r="1.8" fill="#c4c6ec" stroke="#5c5cae" stroke-width="0.55"/><circle cx="377.6" cy="235.3" r="2.8" fill="#9090cc"/><circle cx="377.6" cy="235.3" r="1.8" fill="#c4c6ec" stroke="#5c5cae" stroke-width="0.55"/><circle cx="377.6" cy="255.6" r="2.8" fill="#9090cc"/><circle cx="377.6" cy="255.6" r="1.8" fill="#c4c6ec" stroke="#5c5cae" stroke-width="0.55"/><circle cx="377.6" cy="275.9" r="2.8" fill="#9090cc"/><circle cx="377.6" cy="275.9" r="1.8" fill="#c4c6ec" stroke="#5c5cae" stroke-width="0.55"/><circle cx="337.0" cy="225.2" r="2.45" fill="#6a3414"/><circle cx="337.0" cy="225.2" r="0.8" fill="#9a6438"/><circle cx="357.3" cy="225.2" r="2.45" fill="#6a3414"/><circle cx="357.3" cy="225.2" r="0.8" fill="#9a6438"/><circle cx="377.6" cy="225.2" r="2.45" fill="#6a3414"/><circle cx="377.6" cy="225.2" r="0.8" fill="#9a6438"/><circle cx="326.9" cy="235.3" r="2.45" fill="#6a3414"/><circle cx="326.9" cy="235.3" r="0.8" fill="#9a6438"/><circle cx="347.2" cy="235.3" r="2.45" fill="#6a3414"/><circle cx="347.2" cy="235.3" r="0.8" fill="#9a6438"/><circle cx="367.5" cy="235.3" r="2.45" fill="#6a3414"/><circle cx="367.5" cy="235.3" r="0.8" fill="#9a6438"/><circle cx="387.8" cy="235.3" r="2.45" fill="#6a3414"/><circle cx="387.8" cy="235.3" r="0.8" fill="#9a6438"/><circle cx="337.0" cy="245.5" r="2.45" fill="#6a3414"/><circle cx="337.0" cy="245.5" r="0.8" fill="#9a6438"/><circle cx="357.3" cy="245.5" r="2.45" fill="#6a3414"/><circle cx="357.3" cy="245.5" r="0.8" fill="#9a6438"/><circle cx="377.6" cy="245.5" r="2.45" fill="#6a3414"/><circle cx="377.6" cy="245.5" r="0.8" fill="#9a6438"/><circle cx="326.9" cy="255.6" r="2.45" fill="#6a3414"/><circle cx="326.9" cy="255.6" r="0.8" fill="#9a6438"/><circle cx="347.2" cy="255.6" r="2.45" fill="#6a3414"/><circle cx="347.2" cy="255.6" r="0.8" fill="#9a6438"/><circle cx="367.5" cy="255.6" r="2.45" fill="#6a3414"/><circle cx="367.5" cy="255.6" r="0.8" fill="#9a6438"/><circle cx="387.8" cy="255.6" r="2.45" fill="#6a3414"/><circle cx="387.8" cy="255.6" r="0.8" fill="#9a6438"/><circle cx="337.0" cy="265.8" r="2.45" fill="#6a3414"/><circle cx="337.0" cy="265.8" r="0.8" fill="#9a6438"/><circle cx="357.3" cy="265.8" r="2.45" fill="#6a3414"/><circle cx="357.3" cy="265.8" r="0.8" fill="#9a6438"/><circle cx="377.6" cy="265.8" r="2.45" fill="#6a3414"/><circle cx="377.6" cy="265.8" r="0.8" fill="#9a6438"/><circle cx="326.9" cy="275.9" r="2.45" fill="#6a3414"/><circle cx="326.9" cy="275.9" r="0.8" fill="#9a6438"/><circle cx="347.2" cy="275.9" r="2.45" fill="#6a3414"/><circle cx="347.2" cy="275.9" r="0.8" fill="#9a6438"/><circle cx="367.5" cy="275.9" r="2.45" fill="#6a3414"/><circle cx="367.5" cy="275.9" r="0.8" fill="#9a6438"/><circle cx="387.8" cy="275.9" r="2.45" fill="#6a3414"/><circle cx="387.8" cy="275.9" r="0.8" fill="#9a6438"/><circle cx="337.0" cy="286.1" r="2.45" fill="#6a3414"/><circle cx="337.0" cy="286.1" r="0.8" fill="#9a6438"/><circle cx="357.3" cy="286.1" r="2.45" fill="#6a3414"/><circle cx="357.3" cy="286.1" r="0.8" fill="#9a6438"/><circle cx="377.6" cy="286.1" r="2.45" fill="#6a3414"/><circle cx="377.6" cy="286.1" r="0.8" fill="#9a6438"/><circle cx="347.2" cy="225.2" r="2.4" fill="#789858"/><circle cx="347.2" cy="225.2" r="1.15" fill="#e4eed4"/><circle cx="367.5" cy="225.2" r="1.8" fill="#fff" stroke="#d0d0d0" stroke-width="0.4"/><circle cx="347.2" cy="245.5" r="1.8" fill="#fff" stroke="#d0d0d0" stroke-width="0.4"/><circle cx="367.5" cy="245.5" r="2.4" fill="#789858"/><circle cx="367.5" cy="245.5" r="1.15" fill="#e4eed4"/><circle cx="347.2" cy="265.8" r="1.8" fill="#fff" stroke="#d0d0d0" stroke-width="0.4"/><circle cx="367.5" cy="265.8" r="2.4" fill="#789858"/><circle cx="367.5" cy="265.8" r="1.15" fill="#e4eed4"/><circle cx="347.2" cy="286.1" r="2.4" fill="#789858"/><circle cx="347.2" cy="286.1" r="1.15" fill="#e4eed4"/><circle cx="367.5" cy="286.1" r="2.4" fill="#789858"/><circle cx="367.5" cy="286.1" r="1.15" fill="#e4eed4"/>
<rect x="437.4" y="230.5" width="9.6" height="9.6" fill="#f8d3e7"/><rect x="457.6" y="230.5" width="9.6" height="9.6" fill="#f8d3e7"/><rect x="447.5" y="220.3" width="9.6" height="9.6" fill="#f8d3e7"/><rect x="447.5" y="240.7" width="9.6" height="9.6" fill="#f8d3e7"/><rect x="437.4" y="250.8" width="9.6" height="9.6" fill="#f8d3e7"/><rect x="457.6" y="250.8" width="9.6" height="9.6" fill="#f8d3e7"/><rect x="447.5" y="240.7" width="9.6" height="9.6" fill="#f8d3e7"/><rect x="447.5" y="260.9" width="9.6" height="9.6" fill="#f8d3e7"/><rect x="437.4" y="271.1" width="9.6" height="9.6" fill="#f8d3e7"/><rect x="457.6" y="271.1" width="9.6" height="9.6" fill="#f8d3e7"/><rect x="447.5" y="261.0" width="9.6" height="9.6" fill="#f8d3e7"/><rect x="447.5" y="281.2" width="9.6" height="9.6" fill="#f8d3e7"/><rect x="457.7" y="230.5" width="9.6" height="9.6" fill="#f8d3e7"/><rect x="477.9" y="230.5" width="9.6" height="9.6" fill="#f8d3e7"/><rect x="467.8" y="220.3" width="9.6" height="9.6" fill="#f8d3e7"/><rect x="467.8" y="240.7" width="9.6" height="9.6" fill="#f8d3e7"/><rect x="457.7" y="250.8" width="9.6" height="9.6" fill="#f8d3e7"/><rect x="477.9" y="250.8" width="9.6" height="9.6" fill="#f8d3e7"/><rect x="467.8" y="240.7" width="9.6" height="9.6" fill="#f8d3e7"/><rect x="467.8" y="260.9" width="9.6" height="9.6" fill="#f8d3e7"/><rect x="457.7" y="271.1" width="9.6" height="9.6" fill="#f8d3e7"/><rect x="477.9" y="271.1" width="9.6" height="9.6" fill="#f8d3e7"/><rect x="467.8" y="261.0" width="9.6" height="9.6" fill="#f8d3e7"/><rect x="467.8" y="281.2" width="9.6" height="9.6" fill="#f8d3e7"/><rect x="478.0" y="230.5" width="9.6" height="9.6" fill="#f8d3e7"/><rect x="498.2" y="230.5" width="9.6" height="9.6" fill="#f8d3e7"/><rect x="488.1" y="220.3" width="9.6" height="9.6" fill="#f8d3e7"/><rect x="488.1" y="240.7" width="9.6" height="9.6" fill="#f8d3e7"/><rect x="478.0" y="250.8" width="9.6" height="9.6" fill="#f8d3e7"/><rect x="498.2" y="250.8" width="9.6" height="9.6" fill="#f8d3e7"/><rect x="488.1" y="240.7" width="9.6" height="9.6" fill="#f8d3e7"/><rect x="488.1" y="260.9" width="9.6" height="9.6" fill="#f8d3e7"/><rect x="478.0" y="271.1" width="9.6" height="9.6" fill="#f8d3e7"/><rect x="498.2" y="271.1" width="9.6" height="9.6" fill="#f8d3e7"/><rect x="488.1" y="261.0" width="9.6" height="9.6" fill="#f8d3e7"/><rect x="488.1" y="281.2" width="9.6" height="9.6" fill="#f8d3e7"/><path d="M452.3,226.15 L461.45,235.3 L452.3,244.45000000000002 L443.15000000000003,235.3Z" fill="#e0dcf2"/><path d="M452.3,246.45000000000002 L461.45,255.60000000000002 L452.3,264.75 L443.15000000000003,255.60000000000002Z" fill="#e0dcf2"/><path d="M452.3,266.75000000000006 L461.45,275.90000000000003 L452.3,285.05 L443.15000000000003,275.90000000000003Z" fill="#e0dcf2"/><path d="M472.6,226.15 L481.75,235.3 L472.6,244.45000000000002 L463.45000000000005,235.3Z" fill="#e0dcf2"/><path d="M472.6,246.45000000000002 L481.75,255.60000000000002 L472.6,264.75 L463.45000000000005,255.60000000000002Z" fill="#e0dcf2"/><path d="M472.6,266.75000000000006 L481.75,275.90000000000003 L472.6,285.05 L463.45000000000005,275.90000000000003Z" fill="#e0dcf2"/><path d="M492.90000000000003,226.15 L502.05,235.3 L492.90000000000003,244.45000000000002 L483.75000000000006,235.3Z" fill="#e0dcf2"/><path d="M492.90000000000003,246.45000000000002 L502.05,255.60000000000002 L492.90000000000003,264.75 L483.75000000000006,255.60000000000002Z" fill="#e0dcf2"/><path d="M492.90000000000003,266.75000000000006 L502.05,275.90000000000003 L492.90000000000003,285.05 L483.75000000000006,275.90000000000003Z" fill="#e0dcf2"/><rect x="446.1" y="229.1" width="12.4" height="12.4" rx="2" fill="#d6dbee"/><rect x="446.1" y="249.4" width="12.4" height="12.4" rx="2" fill="#d6dbee"/><rect x="446.1" y="269.7" width="12.4" height="12.4" rx="2" fill="#d6dbee"/><rect x="466.4" y="229.1" width="12.4" height="12.4" rx="2" fill="#d6dbee"/><rect x="466.4" y="249.4" width="12.4" height="12.4" rx="2" fill="#d6dbee"/><rect x="466.4" y="269.7" width="12.4" height="12.4" rx="2" fill="#d6dbee"/><rect x="486.7" y="229.1" width="12.4" height="12.4" rx="2" fill="#d6dbee"/><rect x="486.7" y="249.4" width="12.4" height="12.4" rx="2" fill="#d6dbee"/><rect x="486.7" y="269.7" width="12.4" height="12.4" rx="2" fill="#d6dbee"/><circle cx="452.3" cy="235.3" r="2.8" fill="#9090cc"/><circle cx="452.3" cy="235.3" r="1.8" fill="#c4c6ec" stroke="#5c5cae" stroke-width="0.55"/><circle cx="452.3" cy="255.6" r="2.8" fill="#9090cc"/><circle cx="452.3" cy="255.6" r="1.8" fill="#c4c6ec" stroke="#5c5cae" stroke-width="0.55"/><circle cx="452.3" cy="275.9" r="2.8" fill="#9090cc"/><circle cx="452.3" cy="275.9" r="1.8" fill="#c4c6ec" stroke="#5c5cae" stroke-width="0.55"/><circle cx="472.6" cy="235.3" r="2.8" fill="#9090cc"/><circle cx="472.6" cy="235.3" r="1.8" fill="#c4c6ec" stroke="#5c5cae" stroke-width="0.55"/><circle cx="472.6" cy="255.6" r="2.8" fill="#9090cc"/><circle cx="472.6" cy="255.6" r="1.8" fill="#c4c6ec" stroke="#5c5cae" stroke-width="0.55"/><circle cx="472.6" cy="275.9" r="2.8" fill="#9090cc"/><circle cx="472.6" cy="275.9" r="1.8" fill="#c4c6ec" stroke="#5c5cae" stroke-width="0.55"/><circle cx="492.9" cy="235.3" r="2.8" fill="#9090cc"/><circle cx="492.9" cy="235.3" r="1.8" fill="#c4c6ec" stroke="#5c5cae" stroke-width="0.55"/><circle cx="492.9" cy="255.6" r="2.8" fill="#9090cc"/><circle cx="492.9" cy="255.6" r="1.8" fill="#c4c6ec" stroke="#5c5cae" stroke-width="0.55"/><circle cx="492.9" cy="275.9" r="2.8" fill="#9090cc"/><circle cx="492.9" cy="275.9" r="1.8" fill="#c4c6ec" stroke="#5c5cae" stroke-width="0.55"/><circle cx="452.3" cy="225.2" r="2.45" fill="#6a3414"/><circle cx="452.3" cy="225.2" r="0.8" fill="#9a6438"/><circle cx="472.6" cy="225.2" r="2.45" fill="#6a3414"/><circle cx="472.6" cy="225.2" r="0.8" fill="#9a6438"/><circle cx="492.9" cy="225.2" r="2.45" fill="#6a3414"/><circle cx="492.9" cy="225.2" r="0.8" fill="#9a6438"/><circle cx="442.2" cy="235.3" r="2.45" fill="#6a3414"/><circle cx="442.2" cy="235.3" r="0.8" fill="#9a6438"/><circle cx="462.5" cy="235.3" r="2.45" fill="#6a3414"/><circle cx="462.5" cy="235.3" r="0.8" fill="#9a6438"/><circle cx="482.8" cy="235.3" r="2.45" fill="#6a3414"/><circle cx="482.8" cy="235.3" r="0.8" fill="#9a6438"/><circle cx="503.1" cy="235.3" r="2.45" fill="#6a3414"/><circle cx="503.1" cy="235.3" r="0.8" fill="#9a6438"/><circle cx="452.3" cy="245.5" r="2.45" fill="#6a3414"/><circle cx="452.3" cy="245.5" r="0.8" fill="#9a6438"/><circle cx="472.6" cy="245.5" r="2.45" fill="#6a3414"/><circle cx="472.6" cy="245.5" r="0.8" fill="#9a6438"/><circle cx="492.9" cy="245.5" r="2.45" fill="#6a3414"/><circle cx="492.9" cy="245.5" r="0.8" fill="#9a6438"/><circle cx="442.2" cy="255.6" r="2.45" fill="#6a3414"/><circle cx="442.2" cy="255.6" r="0.8" fill="#9a6438"/><circle cx="462.5" cy="255.6" r="2.45" fill="#6a3414"/><circle cx="462.5" cy="255.6" r="0.8" fill="#9a6438"/><circle cx="482.8" cy="255.6" r="2.45" fill="#6a3414"/><circle cx="482.8" cy="255.6" r="0.8" fill="#9a6438"/><circle cx="503.1" cy="255.6" r="2.45" fill="#6a3414"/><circle cx="503.1" cy="255.6" r="0.8" fill="#9a6438"/><circle cx="452.3" cy="265.8" r="2.45" fill="#6a3414"/><circle cx="452.3" cy="265.8" r="0.8" fill="#9a6438"/><circle cx="472.6" cy="265.8" r="2.45" fill="#6a3414"/><circle cx="472.6" cy="265.8" r="0.8" fill="#9a6438"/><circle cx="492.9" cy="265.8" r="2.45" fill="#6a3414"/><circle cx="492.9" cy="265.8" r="0.8" fill="#9a6438"/><circle cx="442.2" cy="275.9" r="2.45" fill="#6a3414"/><circle cx="442.2" cy="275.9" r="0.8" fill="#9a6438"/><circle cx="462.5" cy="275.9" r="2.45" fill="#6a3414"/><circle cx="462.5" cy="275.9" r="0.8" fill="#9a6438"/><circle cx="482.8" cy="275.9" r="2.45" fill="#6a3414"/><circle cx="482.8" cy="275.9" r="0.8" fill="#9a6438"/><circle cx="503.1" cy="275.9" r="2.45" fill="#6a3414"/><circle cx="503.1" cy="275.9" r="0.8" fill="#9a6438"/><circle cx="452.3" cy="286.1" r="2.45" fill="#6a3414"/><circle cx="452.3" cy="286.1" r="0.8" fill="#9a6438"/><circle cx="472.6" cy="286.1" r="2.45" fill="#6a3414"/><circle cx="472.6" cy="286.1" r="0.8" fill="#9a6438"/><circle cx="492.9" cy="286.1" r="2.45" fill="#6a3414"/><circle cx="492.9" cy="286.1" r="0.8" fill="#9a6438"/><circle cx="462.5" cy="225.2" r="2.4" fill="#789858"/><circle cx="462.5" cy="225.2" r="1.15" fill="#e4eed4"/><circle cx="482.8" cy="225.2" r="2.4" fill="#789858"/><circle cx="482.8" cy="225.2" r="1.15" fill="#e4eed4"/><circle cx="462.5" cy="245.5" r="2.4" fill="#789858"/><circle cx="462.5" cy="245.5" r="1.15" fill="#e4eed4"/><circle cx="482.8" cy="245.5" r="2.4" fill="#789858"/><circle cx="482.8" cy="245.5" r="1.15" fill="#e4eed4"/><circle cx="462.5" cy="265.8" r="2.4" fill="#789858"/><circle cx="462.5" cy="265.8" r="1.15" fill="#e4eed4"/><circle cx="482.8" cy="265.8" r="2.4" fill="#789858"/><circle cx="482.8" cy="265.8" r="1.15" fill="#e4eed4"/><circle cx="462.5" cy="286.1" r="2.4" fill="#789858"/><circle cx="462.5" cy="286.1" r="1.15" fill="#e4eed4"/><circle cx="482.8" cy="286.1" r="2.4" fill="#789858"/><circle cx="482.8" cy="286.1" r="1.15" fill="#e4eed4"/>
<circle cx="326.0" cy="226.0" r="0.8" fill="#55557a"/>
<circle cx="333.0" cy="231.0" r="0.8" fill="#55557a"/>
<circle cx="346.0" cy="230.0" r="0.8" fill="#55557a"/>
<circle cx="353.0" cy="240.0" r="0.8" fill="#55557a"/>
<circle cx="362.0" cy="228.0" r="0.8" fill="#55557a"/>
<circle cx="371.0" cy="239.0" r="0.8" fill="#55557a"/>
<circle cx="330.0" cy="249.0" r="0.8" fill="#55557a"/>
<circle cx="341.0" cy="249.0" r="0.8" fill="#55557a"/>
<circle cx="352.0" cy="260.0" r="0.8" fill="#55557a"/>
<circle cx="363.0" cy="251.0" r="0.8" fill="#55557a"/>
<circle cx="374.0" cy="262.0" r="0.8" fill="#55557a"/>
<circle cx="345.0" cy="270.0" r="0.8" fill="#55557a"/>
<circle cx="331.0" cy="270.0" r="0.8" fill="#55557a"/>
<circle cx="357.0" cy="281.0" r="0.8" fill="#55557a"/>
<circle cx="368.0" cy="270.0" r="0.8" fill="#55557a"/>
<circle cx="382.0" cy="282.0" r="0.8" fill="#55557a"/>
<circle cx="389.0" cy="250.0" r="0.8" fill="#55557a"/>
<circle cx="322.0" cy="266.0" r="0.8" fill="#55557a"/>
<circle cx="386.0" cy="229.0" r="0.8" fill="#55557a"/>
<circle cx="441.0" cy="226.0" r="0.8" fill="#55557a"/>
<circle cx="448.0" cy="230.0" r="0.8" fill="#55557a"/>
<circle cx="458.0" cy="231.0" r="0.8" fill="#55557a"/>
<circle cx="467.0" cy="240.0" r="0.8" fill="#55557a"/>
<circle cx="478.0" cy="228.0" r="0.8" fill="#55557a"/>
<circle cx="487.0" cy="239.0" r="0.8" fill="#55557a"/>
<circle cx="445.0" cy="250.0" r="0.8" fill="#55557a"/>
<circle cx="456.0" cy="251.0" r="0.8" fill="#55557a"/>
<circle cx="467.0" cy="261.0" r="0.8" fill="#55557a"/>
<circle cx="477.0" cy="251.0" r="0.8" fill="#55557a"/>
<circle cx="489.0" cy="262.0" r="0.8" fill="#55557a"/>
<circle cx="460.0" cy="270.0" r="0.8" fill="#55557a"/>
<circle cx="446.0" cy="269.0" r="0.8" fill="#55557a"/>
<circle cx="472.0" cy="281.0" r="0.8" fill="#55557a"/>
<circle cx="483.0" cy="270.0" r="0.8" fill="#55557a"/>
<circle cx="497.0" cy="282.0" r="0.8" fill="#55557a"/>
<circle cx="503.0" cy="250.0" r="0.8" fill="#55557a"/>
<circle cx="438.0" cy="268.0" r="0.8" fill="#55557a"/>
<circle cx="500.0" cy="229.0" r="0.8" fill="#55557a"/>
<path d="M359.0,218.4 L362.20000000000005,221.6 M362.20000000000005,218.4 L359.0,221.6" stroke="#5a3aa8" stroke-width="1.1"/>
<path d="M339.9,237.4 L343.1,240.6 M343.1,237.4 L339.9,240.6" stroke="#5a3aa8" stroke-width="1.1"/>
<path d="M347.79999999999995,269.4 L351.0,272.6 M351.0,269.4 L347.79999999999995,272.6" stroke="#5a3aa8" stroke-width="1.1"/>
<path d="M371.09999999999997,286.4 L374.3,289.6 M374.3,286.4 L371.09999999999997,289.6" stroke="#5a3aa8" stroke-width="1.1"/>
<path d="M471.2,220 L472.5,221.5 L475,218.2" fill="none" stroke="#5a3aa8" stroke-width="1.1"/>
<path d="M454.2,243.5 L455.5,245.0 L458,241.7" fill="none" stroke="#5a3aa8" stroke-width="1.1"/>
<path d="M460.2,272 L461.5,273.5 L464,270.2" fill="none" stroke="#5a3aa8" stroke-width="1.1"/>
<path d="M466.2,282 L467.5,283.5 L470,280.2" fill="none" stroke="#5a3aa8" stroke-width="1.1"/>
<path d="M479.2,296 L480.5,297.5 L483,294.2" fill="none" stroke="#5a3aa8" stroke-width="1.1"/>
<circle cx="352" cy="252" r="1.6" fill="#f4f4f4" stroke="#c8c8c8" stroke-width="0.4"/><circle cx="352.4" cy="251.6" r="0.55" fill="#666"/>
<circle cx="341" cy="262" r="1.6" fill="#f4f4f4" stroke="#c8c8c8" stroke-width="0.4"/><circle cx="341.4" cy="261.6" r="0.55" fill="#666"/>
<circle cx="362" cy="270" r="1.6" fill="#f4f4f4" stroke="#c8c8c8" stroke-width="0.4"/><circle cx="362.4" cy="269.6" r="0.55" fill="#666"/>
<circle cx="372" cy="281" r="1.6" fill="#f4f4f4" stroke="#c8c8c8" stroke-width="0.4"/><circle cx="372.4" cy="280.6" r="0.55" fill="#666"/>
<circle cx="384" cy="290" r="1.6" fill="#f4f4f4" stroke="#c8c8c8" stroke-width="0.4"/><circle cx="384.4" cy="289.6" r="0.55" fill="#666"/>
<circle cx="331" cy="283" r="1.6" fill="#f4f4f4" stroke="#c8c8c8" stroke-width="0.4"/><circle cx="331.4" cy="282.6" r="0.55" fill="#666"/>
<circle cx="350" cy="289" r="1.6" fill="#f4f4f4" stroke="#c8c8c8" stroke-width="0.4"/><circle cx="350.4" cy="288.6" r="0.55" fill="#666"/>
<circle cx="390" cy="271" r="1.6" fill="#f4f4f4" stroke="#c8c8c8" stroke-width="0.4"/><circle cx="390.4" cy="270.6" r="0.55" fill="#666"/>
<circle cx="466" cy="252" r="1.6" fill="#f4f4f4" stroke="#c8c8c8" stroke-width="0.4"/><circle cx="466.4" cy="251.6" r="0.55" fill="#666"/>
<circle cx="455" cy="262" r="1.6" fill="#f4f4f4" stroke="#c8c8c8" stroke-width="0.4"/><circle cx="455.4" cy="261.6" r="0.55" fill="#666"/>
<circle cx="477" cy="270" r="1.6" fill="#f4f4f4" stroke="#c8c8c8" stroke-width="0.4"/><circle cx="477.4" cy="269.6" r="0.55" fill="#666"/>
<circle cx="487" cy="281" r="1.6" fill="#f4f4f4" stroke="#c8c8c8" stroke-width="0.4"/><circle cx="487.4" cy="280.6" r="0.55" fill="#666"/>
<circle cx="499" cy="290" r="1.6" fill="#f4f4f4" stroke="#c8c8c8" stroke-width="0.4"/><circle cx="499.4" cy="289.6" r="0.55" fill="#666"/>
<circle cx="447" cy="283" r="1.6" fill="#f4f4f4" stroke="#c8c8c8" stroke-width="0.4"/><circle cx="447.4" cy="282.6" r="0.55" fill="#666"/>
<circle cx="484" cy="243" r="1.6" fill="#f4f4f4" stroke="#c8c8c8" stroke-width="0.4"/><circle cx="484.4" cy="242.6" r="0.55" fill="#666"/>
<circle cx="495" cy="262" r="1.6" fill="#f4f4f4" stroke="#c8c8c8" stroke-width="0.4"/><circle cx="495.4" cy="261.6" r="0.55" fill="#666"/>
<circle cx="329.0" cy="221.0" r="0.85" fill="#4a4a70"/>
<circle cx="343.0" cy="212.0" r="0.85" fill="#4a4a70"/>
<circle cx="358.0" cy="210.0" r="0.85" fill="#4a4a70"/>
<circle cx="335.0" cy="296.0" r="0.85" fill="#4a4a70"/>
<circle cx="391.0" cy="262.0" r="0.85" fill="#4a4a70"/>
<circle cx="394.0" cy="240.0" r="0.85" fill="#4a4a70"/>
<circle cx="444.0" cy="221.0" r="0.85" fill="#4a4a70"/>
<circle cx="457.0" cy="212.0" r="0.85" fill="#4a4a70"/>
<circle cx="450.0" cy="296.0" r="0.85" fill="#4a4a70"/>
<circle cx="505.0" cy="262.0" r="0.85" fill="#4a4a70"/>
<circle cx="508.0" cy="240.0" r="0.85" fill="#4a4a70"/>
<circle cx="497.0" cy="300.0" r="0.85" fill="#4a4a70"/>
<path d="M336,219 Q340.0,216 344,222" fill="none" stroke="#e0a060" stroke-width="0.5" stroke-dasharray="1,0.8"/>
<path d="M357,215 Q361.0,212 365,221" fill="none" stroke="#e0a060" stroke-width="0.5" stroke-dasharray="1,0.8"/>
<path d="M381,278 Q385.0,275 389,285" fill="none" stroke="#e0a060" stroke-width="0.5" stroke-dasharray="1,0.8"/>
<path d="M395,283 Q396.5,280 398,290" fill="none" stroke="#e0a060" stroke-width="0.5" stroke-dasharray="1,0.8"/>
<path d="M448,219 Q451.5,216 455,223" fill="none" stroke="#e0a060" stroke-width="0.5" stroke-dasharray="1,0.8"/>
<path d="M468,213 Q470.0,210 472,218" fill="none" stroke="#e0a060" stroke-width="0.5" stroke-dasharray="1,0.8"/>
<path d="M480,278 Q486.0,275 492,286" fill="none" stroke="#e0a060" stroke-width="0.5" stroke-dasharray="1,0.8"/>
<path d="M498,289 Q502.0,286 506,293" fill="none" stroke="#e0a060" stroke-width="0.5" stroke-dasharray="1,0.8"/>
<path d="M466,287 Q469.0,280 472,283" fill="none" stroke="#e0a060" stroke-width="0.5" stroke-dasharray="1,0.8"/>
<circle cx="369.0" cy="212.7" r="2.4" fill="#789858"/><circle cx="369.0" cy="212.7" r="1.15" fill="#e4eed4"/>
<circle cx="383.6" cy="213.3" r="2.4" fill="#789858"/><circle cx="383.6" cy="213.3" r="1.15" fill="#e4eed4"/>
<circle cx="318.7" cy="257.6" r="2.4" fill="#789858"/><circle cx="318.7" cy="257.6" r="1.15" fill="#e4eed4"/>
<circle cx="370.5" cy="300.5" r="2.4" fill="#789858"/><circle cx="370.5" cy="300.5" r="1.15" fill="#e4eed4"/>
<circle cx="470.6" cy="213.2" r="2.4" fill="#789858"/><circle cx="470.6" cy="213.2" r="1.15" fill="#e4eed4"/>
<circle cx="464.5" cy="296.0" r="2.4" fill="#789858"/><circle cx="464.5" cy="296.0" r="1.15" fill="#e4eed4"/>
<circle cx="437.9" cy="267.0" r="2.4" fill="#789858"/><circle cx="437.9" cy="267.0" r="1.15" fill="#e4eed4"/>
<circle cx="487.0" cy="219.0" r="2.4" fill="#789858"/><circle cx="487.0" cy="219.0" r="1.15" fill="#e4eed4"/>
<path d="M337,246.5 Q331,244.5 327.5,249" fill="none" stroke="#3a62c0" stroke-width="1.8" stroke-linecap="round"/>
<path d="M325.5,250.5 L327,246 L330,249.5Z" fill="#3a62c0"/>
<path d="M367,221 Q373,219 377,213.5" fill="none" stroke="#3a62c0" stroke-width="1.8" stroke-linecap="round"/>
<path d="M379,211.5 L374.5,213 L378,216Z" fill="#3a62c0"/>
<path d="M330,268 Q324,270 321.5,266" fill="none" stroke="#3a62c0" stroke-width="1.8" stroke-linecap="round"/>
<path d="M359,293 Q366,292 370,297.5" fill="none" stroke="#3a62c0" stroke-width="1.8" stroke-linecap="round"/>
<path d="M371.5,299.5 L367,297.5 L371.5,295Z" fill="#3a62c0"/>
<path d="M473,215 Q481,212 485,218" fill="none" stroke="#3a62c0" stroke-width="1.8" stroke-linecap="round"/>
<path d="M486,220 L482,217 L486.5,215.5Z" fill="#3a62c0"/>
<path d="M448,256.5 Q441,256 436.5,260" fill="none" stroke="#3a62c0" stroke-width="1.8" stroke-linecap="round"/>
<path d="M435,261.5 L437,257 L440,260.5Z" fill="#3a62c0"/>
<path d="M468,292 Q476,292 482,289" fill="none" stroke="#3a62c0" stroke-width="1.8" stroke-linecap="round"/>
<polyline points="313.5,243.5 317.5,248.5 316.0,249 321.0,254.5" fill="none" stroke="#e4d614" stroke-width="4.2" stroke-linejoin="round"/><polyline points="319.0,243.5 323.0,248.5 321.5,249 326.5,254.5" fill="none" stroke="#e4d614" stroke-width="4.2" stroke-linejoin="round"/><polyline points="316.5,245 320.5,250 319.5,250.5 323.5,254" fill="none" stroke="#f4e6a0" stroke-width="0.8"/><polyline points="321.5,248 323.5,251" fill="none" stroke="#e89a30" stroke-width="0.8"/><text x="315.5" y="242" font-size="3" font-family="Liberation Sans" fill="#b04060">hv</text>
<polyline points="428,243.7 432,248.7 430.5,249.2 435.5,254.7" fill="none" stroke="#e4d614" stroke-width="4.2" stroke-linejoin="round"/><polyline points="433.5,243.7 437.5,248.7 436.0,249.2 441.0,254.7" fill="none" stroke="#e4d614" stroke-width="4.2" stroke-linejoin="round"/><polyline points="431,245.2 435,250.2 434,250.7 438,254.2" fill="none" stroke="#f4e6a0" stroke-width="0.8"/><polyline points="436,248.2 438,251.2" fill="none" stroke="#e89a30" stroke-width="0.8"/><text x="430" y="242.2" font-size="3" font-family="Liberation Sans" fill="#b04060">hv</text>
<text x="411" y="254.4" font-size="4.6" font-family="Liberation Sans" fill="#333" text-anchor="middle" >CsX</text>
<line x1="398.5" y1="256.5" x2="425.5" y2="256.5" stroke="#444" stroke-width="0.55"/>
<text x="412" y="261.8" font-size="4.4" font-family="Liberation Sans" fill="#333" text-anchor="middle" >treatment</text>
<text x="353.8" y="308.2" font-size="4.9" font-family="Liberation Sans" fill="#333" text-anchor="middle" >Inducing Cs vacancies</text>
<text x="472.2" y="308.2" font-size="4.9" font-family="Liberation Sans" fill="#333" text-anchor="middle" >Cs vacancy filling</text>
<circle cx="302.8" cy="319.7" r="2.45" fill="#6a3414"/><circle cx="302.8" cy="319.7" r="0.8" fill="#9a6438"/>
<text x="305.5" y="321.1" font-size="4.8" font-family="Liberation Sans" fill="#333" text-anchor="start" >= I</text>
<circle cx="318.0" cy="319.7" r="2.8" fill="#9090cc"/><circle cx="318.0" cy="319.7" r="1.8" fill="#c4c6ec" stroke="#5c5cae" stroke-width="0.55"/>
<text x="320.8" y="321.1" font-size="4.8" font-family="Liberation Sans" fill="#333" text-anchor="start" >= Pb</text>
<circle cx="336.6" cy="319.7" r="2.4" fill="#789858"/><circle cx="336.6" cy="319.7" r="1.15" fill="#e4eed4"/>
<text x="339.2" y="321.1" font-size="4.8" font-family="Liberation Sans" fill="#333" text-anchor="start" >= Cs</text>
<circle cx="355.8" cy="319.7" r="1.8" fill="#fff" stroke="#d0d0d0" stroke-width="0.4"/>
<text x="358.5" y="321.1" font-size="4.8" font-family="Liberation Sans" fill="#333" text-anchor="start" >= Cs vacancy</text>
<circle cx="397.6" cy="319.2" r="2" fill="#f0f0f0" stroke="#999" stroke-width="0.4"/><circle cx="398.2" cy="318.6" r="0.7" fill="#444"/>
<text x="400.5" y="321.1" font-size="4.8" font-family="Liberation Sans" fill="#333" text-anchor="start" >= exciton</text>
<path d="M424.2,318.0 L427.40000000000003,321.20000000000005 M427.40000000000003,318.0 L424.2,321.20000000000005" stroke="#5a3aa8" stroke-width="1.1"/>
<text x="428.5" y="321.1" font-size="4.8" font-family="Liberation Sans" fill="#333" text-anchor="start" >= charge trapping</text>
<path d="M470.0,319.6 L471.3,321.1 L473.8,317.8" fill="none" stroke="#5a3aa8" stroke-width="1.1"/>
<text x="474.5" y="321.1" font-size="4.8" font-family="Liberation Sans" fill="#333" text-anchor="start" >= charge transport</text>
<text x="263" y="124.2" font-size="11" font-family="Liberation Serif" font-weight="bold" fill="#111" text-anchor="start" >(f)</text>
</svg></body></html>
